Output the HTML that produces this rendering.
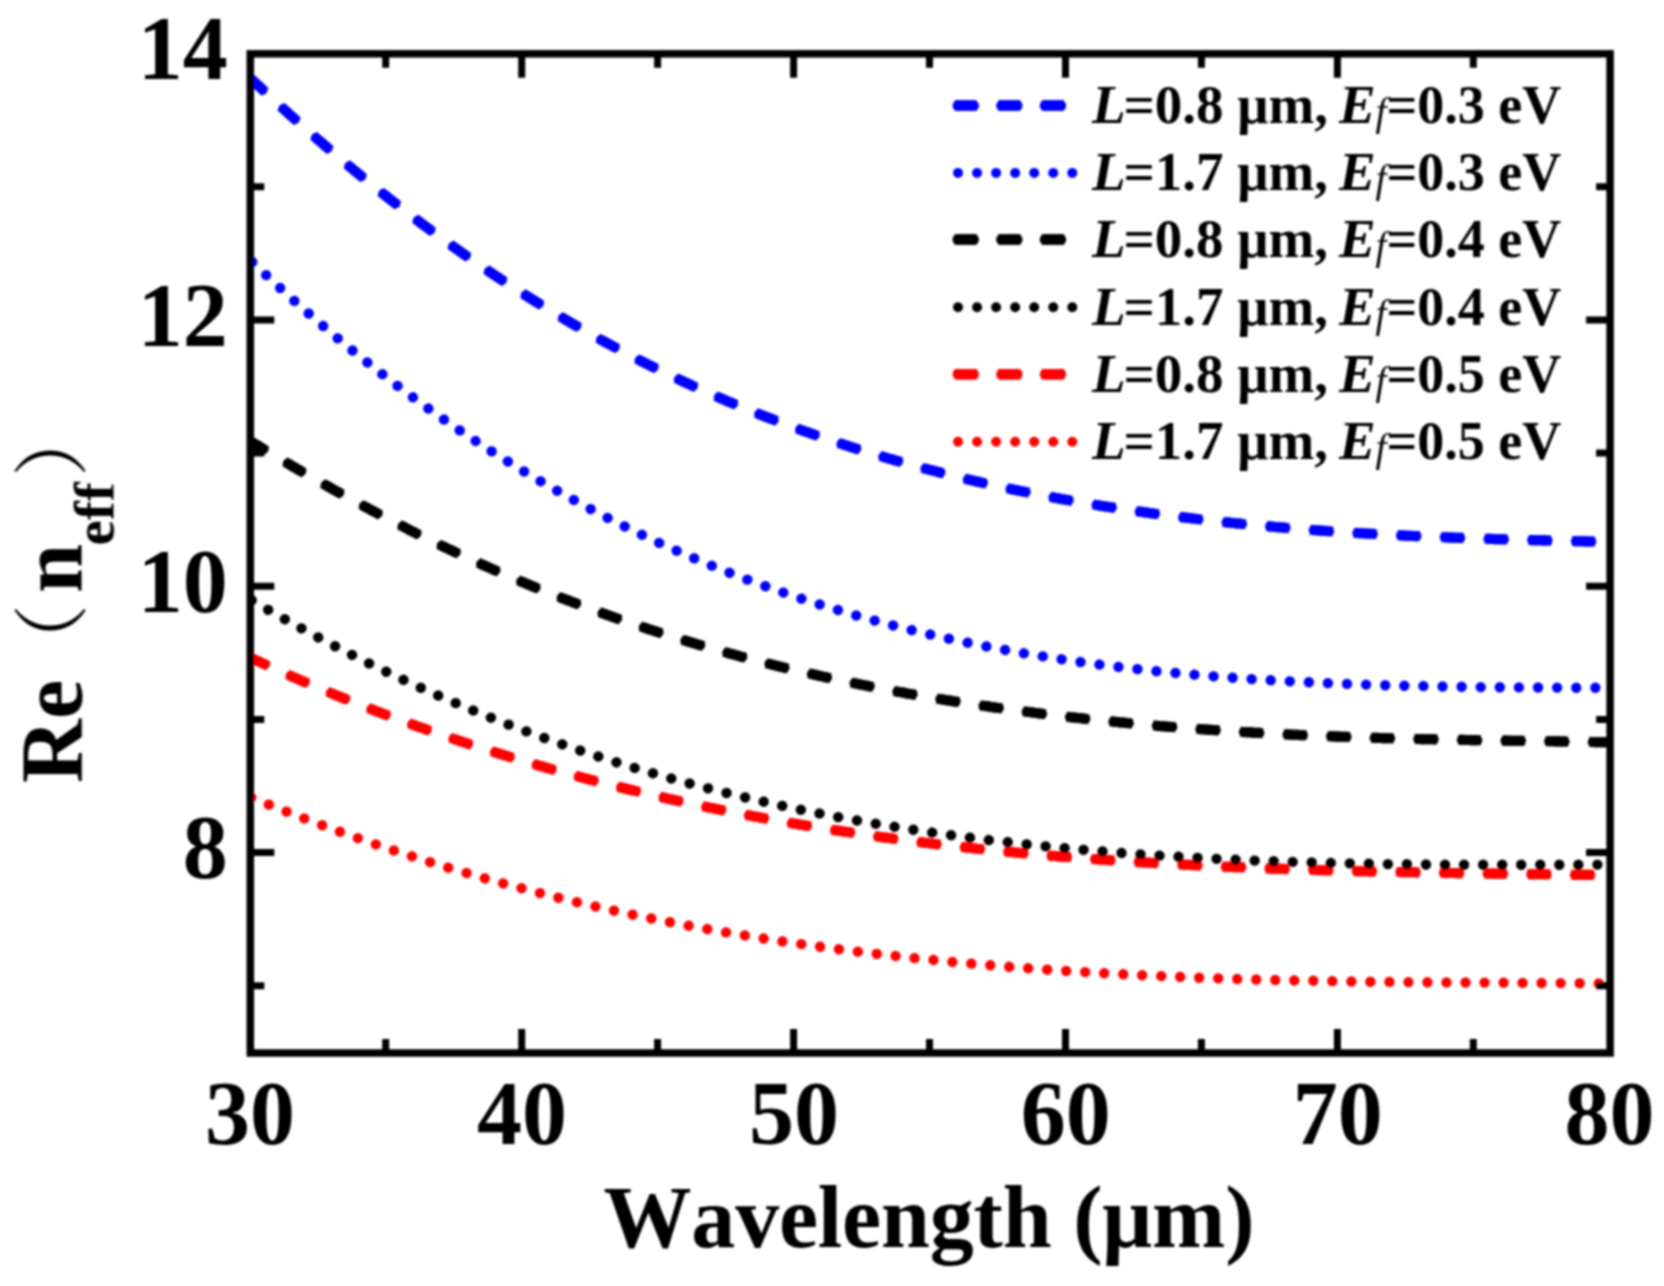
<!DOCTYPE html>
<html lang="en"><head><meta charset="utf-8"><title>Re(neff) vs Wavelength</title>
<style>
html,body{margin:0;padding:0;background:#fff;}
body{width:1664px;height:1286px;overflow:hidden;}
svg{display:block;}
text{font-family:"Liberation Serif","Noto Serif CJK SC",serif;font-weight:bold;fill:#000;font-kerning:none;}
.tick{font-size:90px;}
.lg{font-size:55px;}
.it{font-style:italic;}
.sub{font-size:39px;font-style:italic;font-weight:normal;}
.cjk{font-family:"Noto Serif CJK SC","Liberation Serif",serif;font-weight:normal;}
</style></head><body>
<svg width="1664" height="1286" viewBox="0 0 1664 1286">
<defs><clipPath id="plot"><rect x="247.3" y="53.8" width="1362.8" height="999.2"/></clipPath>
<filter id="soft" x="-5%" y="-5%" width="110%" height="110%"><feGaussianBlur stdDeviation="0.8"/></filter></defs>
<rect width="1664" height="1286" fill="#fff"/>
<g filter="url(#soft)">
<g clip-path="url(#plot)" fill="none">
<path d="M251.0 78.8 L253.0 80.7 L255.0 82.6 L257.0 84.5 L259.0 86.3 L261.0 88.2 L263.0 90.1 L265.0 91.9 L267.0 93.8 L269.0 95.6 L271.0 97.5 L273.0 99.3 L275.0 101.2 L277.0 103.0 L279.0 104.8 L281.0 106.7 L283.0 108.5 L285.0 110.3 L287.0 112.1 L289.0 113.9 L291.0 115.7 L293.0 117.5 L295.0 119.3 L297.0 121.1 L299.0 122.9 L301.0 124.6 L303.0 126.4 L305.0 128.2 L307.0 130.0 L309.0 131.7 L311.0 133.5 L313.0 135.2 L315.0 137.0 L317.0 138.7 L319.0 140.5 L321.0 142.2 L323.0 143.9 L325.0 145.7 L327.0 147.4 L329.0 149.1 L331.0 150.8 L333.0 152.5 L335.0 154.2 L337.0 155.9 L339.0 157.6 L341.0 159.3 L343.0 161.0 L345.0 162.7 L347.0 164.3 L349.0 166.0 L351.0 167.7 L353.0 169.3 L355.0 171.0 L357.0 172.6 L359.0 174.3 L361.0 175.9 L363.0 177.6 L365.0 179.2 L367.0 180.8 L369.0 182.5 L371.0 184.1 L373.0 185.7 L375.0 187.3 L377.0 188.9 L379.0 190.5 L381.0 192.1 L383.0 193.7 L385.0 195.3 L387.0 196.9 L389.0 198.4 L391.0 200.0 L393.0 201.6 L395.0 203.1 L397.0 204.7 L399.0 206.3 L401.0 207.8 L403.0 209.4 L405.0 210.9 L407.0 212.4 L409.0 214.0 L411.0 215.5 L413.0 217.0 L415.0 218.5 L417.0 220.0 L419.0 221.6 L421.0 223.1 L423.0 224.6 L425.0 226.0 L427.0 227.5 L429.0 229.0 L431.0 230.5 L433.0 232.0 L435.0 233.5 L437.0 234.9 L439.0 236.4 L441.0 237.8 L443.0 239.3 L445.0 240.7 L447.0 242.2 L449.0 243.6 L451.0 245.1 L453.0 246.5 L455.0 247.9 L457.0 249.3 L459.0 250.7 L461.0 252.2 L463.0 253.6 L465.0 255.0 L467.0 256.4 L469.0 257.8 L471.0 259.1 L473.0 260.5 L475.0 261.9 L477.0 263.3 L479.0 264.7 L481.0 266.0 L483.0 267.4 L485.0 268.7 L487.0 270.1 L489.0 271.4 L491.0 272.8 L493.0 274.1 L495.0 275.4 L497.0 276.8 L499.0 278.1 L501.0 279.4 L503.0 280.7 L505.0 282.0 L507.0 283.4 L509.0 284.7 L511.0 286.0 L513.0 287.2 L515.0 288.5 L517.0 289.8 L519.0 291.1 L521.0 292.4 L523.0 293.6 L525.0 294.9 L527.0 296.2 L529.0 297.4 L531.0 298.7 L533.0 299.9 L535.0 301.2 L537.0 302.4 L539.0 303.6 L541.0 304.9 L543.0 306.1 L545.0 307.3 L547.0 308.5 L549.0 309.8 L551.0 311.0 L553.0 312.2 L555.0 313.4 L557.0 314.6 L559.0 315.7 L561.0 316.9 L563.0 318.1 L565.0 319.3 L567.0 320.5 L569.0 321.6 L571.0 322.8 L573.0 324.0 L575.0 325.1 L577.0 326.3 L579.0 327.4 L581.0 328.6 L583.0 329.7 L585.0 330.8 L587.0 332.0 L589.0 333.1 L591.0 334.2 L593.0 335.3 L595.0 336.4 L597.0 337.6 L599.0 338.7 L601.0 339.8 L603.0 340.9 L605.0 342.0 L607.0 343.0 L609.0 344.1 L611.0 345.2 L613.0 346.3 L615.0 347.4 L617.0 348.4 L619.0 349.5 L621.0 350.5 L623.0 351.6 L625.0 352.6 L627.0 353.7 L629.0 354.7 L631.0 355.8 L633.0 356.8 L635.0 357.8 L637.0 358.9 L639.0 359.9 L641.0 360.9 L643.0 361.9 L645.0 362.9 L647.0 363.9 L649.0 364.9 L651.0 365.9 L653.0 366.9 L655.0 367.9 L657.0 368.9 L659.0 369.9 L661.0 370.9 L663.0 371.8 L665.0 372.8 L667.0 373.8 L669.0 374.7 L671.0 375.7 L673.0 376.6 L675.0 377.6 L677.0 378.5 L679.0 379.5 L681.0 380.4 L683.0 381.4 L685.0 382.3 L687.0 383.2 L689.0 384.1 L691.0 385.1 L693.0 386.0 L695.0 386.9 L697.0 387.8 L699.0 388.7 L701.0 389.6 L703.0 390.5 L705.0 391.4 L707.0 392.3 L709.0 393.2 L711.0 394.0 L713.0 394.9 L715.0 395.8 L717.0 396.7 L719.0 397.5 L721.0 398.4 L723.0 399.3 L725.0 400.1 L727.0 401.0 L729.0 401.8 L731.0 402.7 L733.0 403.5 L735.0 404.3 L737.0 405.2 L739.0 406.0 L741.0 406.8 L743.0 407.6 L745.0 408.5 L747.0 409.3 L749.0 410.1 L751.0 410.9 L753.0 411.7 L755.0 412.5 L757.0 413.3 L759.0 414.1 L761.0 414.9 L763.0 415.7 L765.0 416.5 L767.0 417.2 L769.0 418.0 L771.0 418.8 L773.0 419.5 L775.0 420.3 L777.0 421.1 L779.0 421.8 L781.0 422.6 L783.0 423.3 L785.0 424.1 L787.0 424.8 L789.0 425.6 L791.0 426.3 L793.0 427.1 L795.0 427.8 L797.0 428.5 L799.0 429.2 L801.0 430.0 L803.0 430.7 L805.0 431.4 L807.0 432.1 L809.0 432.8 L811.0 433.5 L813.0 434.2 L815.0 434.9 L817.0 435.6 L819.0 436.3 L821.0 437.0 L823.0 437.7 L825.0 438.4 L827.0 439.0 L829.0 439.7 L831.0 440.4 L833.0 441.1 L835.0 441.7 L837.0 442.4 L839.0 443.1 L841.0 443.7 L843.0 444.4 L845.0 445.0 L847.0 445.7 L849.0 446.3 L851.0 447.0 L853.0 447.6 L855.0 448.2 L857.0 448.9 L859.0 449.5 L861.0 450.1 L863.0 450.7 L865.0 451.4 L867.0 452.0 L869.0 452.6 L871.0 453.2 L873.0 453.8 L875.0 454.4 L877.0 455.0 L879.0 455.6 L881.0 456.2 L883.0 456.8 L885.0 457.4 L887.0 458.0 L889.0 458.6 L891.0 459.1 L893.0 459.7 L895.0 460.3 L897.0 460.9 L899.0 461.4 L901.0 462.0 L903.0 462.6 L905.0 463.1 L907.0 463.7 L909.0 464.2 L911.0 464.8 L913.0 465.4 L915.0 465.9 L917.0 466.4 L919.0 467.0 L921.0 467.5 L923.0 468.1 L925.0 468.6 L927.0 469.1 L929.0 469.7 L931.0 470.2 L933.0 470.7 L935.0 471.2 L937.0 471.7 L939.0 472.2 L941.0 472.8 L943.0 473.3 L945.0 473.8 L947.0 474.3 L949.0 474.8 L951.0 475.3 L953.0 475.8 L955.0 476.3 L957.0 476.8 L959.0 477.2 L961.0 477.7 L963.0 478.2 L965.0 478.7 L967.0 479.2 L969.0 479.6 L971.0 480.1 L973.0 480.6 L975.0 481.1 L977.0 481.5 L979.0 482.0 L981.0 482.4 L983.0 482.9 L985.0 483.4 L987.0 483.8 L989.0 484.3 L991.0 484.7 L993.0 485.1 L995.0 485.6 L997.0 486.0 L999.0 486.5 L1001.0 486.9 L1003.0 487.3 L1005.0 487.8 L1007.0 488.2 L1009.0 488.6 L1011.0 489.0 L1013.0 489.5 L1015.0 489.9 L1017.0 490.3 L1019.0 490.7 L1021.0 491.1 L1023.0 491.5 L1025.0 491.9 L1027.0 492.3 L1029.0 492.7 L1031.0 493.1 L1033.0 493.5 L1035.0 493.9 L1037.0 494.3 L1039.0 494.7 L1041.0 495.1 L1043.0 495.5 L1045.0 495.9 L1047.0 496.3 L1049.0 496.6 L1051.0 497.0 L1053.0 497.4 L1055.0 497.8 L1057.0 498.1 L1059.0 498.5 L1061.0 498.9 L1063.0 499.2 L1065.0 499.6 L1067.0 499.9 L1069.0 500.3 L1071.0 500.7 L1073.0 501.0 L1075.0 501.4 L1077.0 501.7 L1079.0 502.1 L1081.0 502.4 L1083.0 502.7 L1085.0 503.1 L1087.0 503.4 L1089.0 503.8 L1091.0 504.1 L1093.0 504.4 L1095.0 504.8 L1097.0 505.1 L1099.0 505.4 L1101.0 505.7 L1103.0 506.1 L1105.0 506.4 L1107.0 506.7 L1109.0 507.0 L1111.0 507.3 L1113.0 507.6 L1115.0 507.9 L1117.0 508.3 L1119.0 508.6 L1121.0 508.9 L1123.0 509.2 L1125.0 509.5 L1127.0 509.8 L1129.0 510.1 L1131.0 510.4 L1133.0 510.6 L1135.0 510.9 L1137.0 511.2 L1139.0 511.5 L1141.0 511.8 L1143.0 512.1 L1145.0 512.4 L1147.0 512.6 L1149.0 512.9 L1151.0 513.2 L1153.0 513.5 L1155.0 513.7 L1157.0 514.0 L1159.0 514.3 L1161.0 514.5 L1163.0 514.8 L1165.0 515.1 L1167.0 515.3 L1169.0 515.6 L1171.0 515.8 L1173.0 516.1 L1175.0 516.4 L1177.0 516.6 L1179.0 516.9 L1181.0 517.1 L1183.0 517.4 L1185.0 517.6 L1187.0 517.8 L1189.0 518.1 L1191.0 518.3 L1193.0 518.6 L1195.0 518.8 L1197.0 519.0 L1199.0 519.3 L1201.0 519.5 L1203.0 519.7 L1205.0 520.0 L1207.0 520.2 L1209.0 520.4 L1211.0 520.6 L1213.0 520.9 L1215.0 521.1 L1217.0 521.3 L1219.0 521.5 L1221.0 521.7 L1223.0 521.9 L1225.0 522.2 L1227.0 522.4 L1229.0 522.6 L1231.0 522.8 L1233.0 523.0 L1235.0 523.2 L1237.0 523.4 L1239.0 523.6 L1241.0 523.8 L1243.0 524.0 L1245.0 524.2 L1247.0 524.4 L1249.0 524.6 L1251.0 524.8 L1253.0 525.0 L1255.0 525.1 L1257.0 525.3 L1259.0 525.5 L1261.0 525.7 L1263.0 525.9 L1265.0 526.1 L1267.0 526.3 L1269.0 526.4 L1271.0 526.6 L1273.0 526.8 L1275.0 527.0 L1277.0 527.1 L1279.0 527.3 L1281.0 527.5 L1283.0 527.6 L1285.0 527.8 L1287.0 528.0 L1289.0 528.1 L1291.0 528.3 L1293.0 528.5 L1295.0 528.6 L1297.0 528.8 L1299.0 528.9 L1301.0 529.1 L1303.0 529.3 L1305.0 529.4 L1307.0 529.6 L1309.0 529.7 L1311.0 529.9 L1313.0 530.0 L1315.0 530.2 L1317.0 530.3 L1319.0 530.5 L1321.0 530.6 L1323.0 530.7 L1325.0 530.9 L1327.0 531.0 L1329.0 531.2 L1331.0 531.3 L1333.0 531.4 L1335.0 531.6 L1337.0 531.7 L1339.0 531.8 L1341.0 532.0 L1343.0 532.1 L1345.0 532.2 L1347.0 532.4 L1349.0 532.5 L1351.0 532.6 L1353.0 532.7 L1355.0 532.9 L1357.0 533.0 L1359.0 533.1 L1361.0 533.2 L1363.0 533.3 L1365.0 533.5 L1367.0 533.6 L1369.0 533.7 L1371.0 533.8 L1373.0 533.9 L1375.0 534.0 L1377.0 534.1 L1379.0 534.2 L1381.0 534.4 L1383.0 534.5 L1385.0 534.6 L1387.0 534.7 L1389.0 534.8 L1391.0 534.9 L1393.0 535.0 L1395.0 535.1 L1397.0 535.2 L1399.0 535.3 L1401.0 535.4 L1403.0 535.5 L1405.0 535.6 L1407.0 535.7 L1409.0 535.8 L1411.0 535.9 L1413.0 536.0 L1415.0 536.1 L1417.0 536.1 L1419.0 536.2 L1421.0 536.3 L1423.0 536.4 L1425.0 536.5 L1427.0 536.6 L1429.0 536.7 L1431.0 536.8 L1433.0 536.8 L1435.0 536.9 L1437.0 537.0 L1439.0 537.1 L1441.0 537.2 L1443.0 537.2 L1445.0 537.3 L1447.0 537.4 L1449.0 537.5 L1451.0 537.6 L1453.0 537.6 L1455.0 537.7 L1457.0 537.8 L1459.0 537.9 L1461.0 537.9 L1463.0 538.0 L1465.0 538.1 L1467.0 538.1 L1469.0 538.2 L1471.0 538.3 L1473.0 538.4 L1475.0 538.4 L1477.0 538.5 L1479.0 538.6 L1481.0 538.6 L1483.0 538.7 L1485.0 538.8 L1487.0 538.8 L1489.0 538.9 L1491.0 538.9 L1493.0 539.0 L1495.0 539.1 L1497.0 539.1 L1499.0 539.2 L1501.0 539.2 L1503.0 539.3 L1505.0 539.4 L1507.0 539.4 L1509.0 539.5 L1511.0 539.5 L1513.0 539.6 L1515.0 539.6 L1517.0 539.7 L1519.0 539.8 L1521.0 539.8 L1523.0 539.9 L1525.0 539.9 L1527.0 540.0 L1529.0 540.0 L1531.0 540.1 L1533.0 540.1 L1535.0 540.2 L1537.0 540.2 L1539.0 540.3 L1541.0 540.3 L1543.0 540.4 L1545.0 540.4 L1547.0 540.5 L1549.0 540.5 L1551.0 540.6 L1553.0 540.6 L1555.0 540.7 L1557.0 540.7 L1559.0 540.8 L1561.0 540.8 L1563.0 540.9 L1565.0 540.9 L1567.0 541.0 L1569.0 541.0 L1571.0 541.1 L1573.0 541.1 L1575.0 541.1 L1577.0 541.2 L1579.0 541.2 L1581.0 541.3 L1583.0 541.3 L1585.0 541.4 L1587.0 541.4 L1589.0 541.5 L1591.0 541.5 L1593.0 541.5 L1595.0 541.6 L1597.0 541.6 L1599.0 541.7 L1601.0 541.7 L1603.0 541.8 L1605.0 541.8 L1607.0 541.9 L1609.0 541.9" stroke="#0000ff" stroke-width="10.1" stroke-linecap="round" stroke-dasharray="15.50 28.25" stroke-dashoffset="43.40"/>
<path d="M251.0 78.8 L253.0 80.7 L255.0 82.6 L257.0 84.5 L259.0 86.3 L261.0 88.2 L263.0 90.1 L265.0 91.9 L267.0 93.8 L269.0 95.6 L271.0 97.5 L273.0 99.3 L275.0 101.2 L277.0 103.0 L279.0 104.8 L281.0 106.7 L283.0 108.5 L285.0 110.3 L287.0 112.1 L289.0 113.9 L291.0 115.7 L293.0 117.5 L295.0 119.3 L297.0 121.1 L299.0 122.9 L301.0 124.6 L303.0 126.4 L305.0 128.2 L307.0 130.0 L309.0 131.7 L311.0 133.5 L313.0 135.2 L315.0 137.0 L317.0 138.7 L319.0 140.5 L321.0 142.2 L323.0 143.9 L325.0 145.7 L327.0 147.4 L329.0 149.1 L331.0 150.8 L333.0 152.5 L335.0 154.2 L337.0 155.9 L339.0 157.6 L341.0 159.3 L343.0 161.0 L345.0 162.7 L347.0 164.3 L349.0 166.0 L351.0 167.7 L353.0 169.3 L355.0 171.0 L357.0 172.6 L359.0 174.3 L361.0 175.9 L363.0 177.6 L365.0 179.2 L367.0 180.8 L369.0 182.5 L371.0 184.1 L373.0 185.7 L375.0 187.3 L377.0 188.9 L379.0 190.5 L381.0 192.1 L383.0 193.7 L385.0 195.3 L387.0 196.9 L389.0 198.4 L391.0 200.0 L393.0 201.6 L395.0 203.1 L397.0 204.7 L399.0 206.3 L401.0 207.8 L403.0 209.4 L405.0 210.9 L407.0 212.4 L409.0 214.0 L411.0 215.5 L413.0 217.0 L415.0 218.5 L417.0 220.0 L419.0 221.6 L421.0 223.1 L423.0 224.6 L425.0 226.0 L427.0 227.5 L429.0 229.0 L431.0 230.5 L433.0 232.0 L435.0 233.5 L437.0 234.9 L439.0 236.4 L441.0 237.8 L443.0 239.3 L445.0 240.7 L447.0 242.2 L449.0 243.6 L451.0 245.1 L453.0 246.5 L455.0 247.9 L457.0 249.3 L459.0 250.7 L461.0 252.2 L463.0 253.6 L465.0 255.0 L467.0 256.4 L469.0 257.8 L471.0 259.1 L473.0 260.5 L475.0 261.9 L477.0 263.3 L479.0 264.7 L481.0 266.0 L483.0 267.4 L485.0 268.7 L487.0 270.1 L489.0 271.4 L491.0 272.8 L493.0 274.1 L495.0 275.4 L497.0 276.8 L499.0 278.1 L501.0 279.4 L503.0 280.7 L505.0 282.0 L507.0 283.4 L509.0 284.7 L511.0 286.0 L513.0 287.2 L515.0 288.5 L517.0 289.8 L519.0 291.1 L521.0 292.4 L523.0 293.6 L525.0 294.9 L527.0 296.2 L529.0 297.4 L531.0 298.7 L533.0 299.9 L535.0 301.2 L537.0 302.4 L539.0 303.6 L541.0 304.9 L543.0 306.1 L545.0 307.3 L547.0 308.5 L549.0 309.8 L551.0 311.0 L553.0 312.2 L555.0 313.4 L557.0 314.6 L559.0 315.7 L561.0 316.9 L563.0 318.1 L565.0 319.3 L567.0 320.5 L569.0 321.6 L571.0 322.8 L573.0 324.0 L575.0 325.1 L577.0 326.3 L579.0 327.4 L581.0 328.6 L583.0 329.7 L585.0 330.8 L587.0 332.0 L589.0 333.1 L591.0 334.2 L593.0 335.3 L595.0 336.4 L597.0 337.6 L599.0 338.7 L601.0 339.8 L603.0 340.9 L605.0 342.0 L607.0 343.0 L609.0 344.1 L611.0 345.2 L613.0 346.3 L615.0 347.4 L617.0 348.4 L619.0 349.5 L621.0 350.5 L623.0 351.6 L625.0 352.6 L627.0 353.7 L629.0 354.7 L631.0 355.8 L633.0 356.8 L635.0 357.8 L637.0 358.9 L639.0 359.9 L641.0 360.9 L643.0 361.9 L645.0 362.9 L647.0 363.9 L649.0 364.9 L651.0 365.9 L653.0 366.9 L655.0 367.9 L657.0 368.9 L659.0 369.9 L661.0 370.9 L663.0 371.8 L665.0 372.8 L667.0 373.8 L669.0 374.7 L671.0 375.7 L673.0 376.6 L675.0 377.6 L677.0 378.5 L679.0 379.5 L681.0 380.4 L683.0 381.4 L685.0 382.3 L687.0 383.2 L689.0 384.1 L691.0 385.1 L693.0 386.0 L695.0 386.9 L697.0 387.8 L699.0 388.7 L701.0 389.6 L703.0 390.5 L705.0 391.4 L707.0 392.3 L709.0 393.2 L711.0 394.0 L713.0 394.9 L715.0 395.8 L717.0 396.7 L719.0 397.5 L721.0 398.4 L723.0 399.3 L725.0 400.1 L727.0 401.0 L729.0 401.8 L731.0 402.7 L733.0 403.5 L735.0 404.3 L737.0 405.2 L739.0 406.0 L741.0 406.8 L743.0 407.6 L745.0 408.5 L747.0 409.3 L749.0 410.1 L751.0 410.9 L753.0 411.7 L755.0 412.5 L757.0 413.3 L759.0 414.1 L761.0 414.9 L763.0 415.7 L765.0 416.5 L767.0 417.2 L769.0 418.0 L771.0 418.8 L773.0 419.5 L775.0 420.3 L777.0 421.1 L779.0 421.8 L781.0 422.6 L783.0 423.3 L785.0 424.1 L787.0 424.8 L789.0 425.6 L791.0 426.3 L793.0 427.1 L795.0 427.8 L797.0 428.5 L799.0 429.2 L801.0 430.0 L803.0 430.7 L805.0 431.4 L807.0 432.1 L809.0 432.8 L811.0 433.5 L813.0 434.2 L815.0 434.9 L817.0 435.6 L819.0 436.3 L821.0 437.0 L823.0 437.7 L825.0 438.4 L827.0 439.0 L829.0 439.7 L831.0 440.4 L833.0 441.1 L835.0 441.7 L837.0 442.4 L839.0 443.1 L841.0 443.7 L843.0 444.4 L845.0 445.0 L847.0 445.7 L849.0 446.3 L851.0 447.0 L853.0 447.6 L855.0 448.2 L857.0 448.9 L859.0 449.5 L861.0 450.1 L863.0 450.7 L865.0 451.4 L867.0 452.0 L869.0 452.6 L871.0 453.2 L873.0 453.8 L875.0 454.4 L877.0 455.0 L879.0 455.6 L881.0 456.2 L883.0 456.8 L885.0 457.4 L887.0 458.0 L889.0 458.6 L891.0 459.1 L893.0 459.7 L895.0 460.3 L897.0 460.9 L899.0 461.4 L901.0 462.0 L903.0 462.6 L905.0 463.1 L907.0 463.7 L909.0 464.2 L911.0 464.8 L913.0 465.4 L915.0 465.9 L917.0 466.4 L919.0 467.0 L921.0 467.5 L923.0 468.1 L925.0 468.6 L927.0 469.1 L929.0 469.7 L931.0 470.2 L933.0 470.7 L935.0 471.2 L937.0 471.7 L939.0 472.2 L941.0 472.8 L943.0 473.3 L945.0 473.8 L947.0 474.3 L949.0 474.8 L951.0 475.3 L953.0 475.8 L955.0 476.3 L957.0 476.8 L959.0 477.2 L961.0 477.7 L963.0 478.2 L965.0 478.7 L967.0 479.2 L969.0 479.6 L971.0 480.1 L973.0 480.6 L975.0 481.1 L977.0 481.5 L979.0 482.0 L981.0 482.4 L983.0 482.9 L985.0 483.4 L987.0 483.8 L989.0 484.3 L991.0 484.7 L993.0 485.1 L995.0 485.6 L997.0 486.0 L999.0 486.5 L1001.0 486.9 L1003.0 487.3 L1005.0 487.8 L1007.0 488.2 L1009.0 488.6 L1011.0 489.0 L1013.0 489.5 L1015.0 489.9 L1017.0 490.3 L1019.0 490.7 L1021.0 491.1 L1023.0 491.5 L1025.0 491.9 L1027.0 492.3 L1029.0 492.7 L1031.0 493.1 L1033.0 493.5 L1035.0 493.9 L1037.0 494.3 L1039.0 494.7 L1041.0 495.1 L1043.0 495.5 L1045.0 495.9 L1047.0 496.3 L1049.0 496.6 L1051.0 497.0 L1053.0 497.4 L1055.0 497.8 L1057.0 498.1 L1059.0 498.5 L1061.0 498.9 L1063.0 499.2 L1065.0 499.6 L1067.0 499.9 L1069.0 500.3 L1071.0 500.7 L1073.0 501.0 L1075.0 501.4 L1077.0 501.7 L1079.0 502.1 L1081.0 502.4 L1083.0 502.7 L1085.0 503.1 L1087.0 503.4 L1089.0 503.8 L1091.0 504.1 L1093.0 504.4 L1095.0 504.8 L1097.0 505.1 L1099.0 505.4 L1101.0 505.7 L1103.0 506.1 L1105.0 506.4 L1107.0 506.7 L1109.0 507.0 L1111.0 507.3 L1113.0 507.6 L1115.0 507.9 L1117.0 508.3 L1119.0 508.6 L1121.0 508.9 L1123.0 509.2 L1125.0 509.5 L1127.0 509.8 L1129.0 510.1 L1131.0 510.4 L1133.0 510.6 L1135.0 510.9 L1137.0 511.2 L1139.0 511.5 L1141.0 511.8 L1143.0 512.1 L1145.0 512.4 L1147.0 512.6 L1149.0 512.9 L1151.0 513.2 L1153.0 513.5 L1155.0 513.7 L1157.0 514.0 L1159.0 514.3 L1161.0 514.5 L1163.0 514.8 L1165.0 515.1 L1167.0 515.3 L1169.0 515.6 L1171.0 515.8 L1173.0 516.1 L1175.0 516.4 L1177.0 516.6 L1179.0 516.9 L1181.0 517.1 L1183.0 517.4 L1185.0 517.6 L1187.0 517.8 L1189.0 518.1 L1191.0 518.3 L1193.0 518.6 L1195.0 518.8 L1197.0 519.0 L1199.0 519.3 L1201.0 519.5 L1203.0 519.7 L1205.0 520.0 L1207.0 520.2 L1209.0 520.4 L1211.0 520.6 L1213.0 520.9 L1215.0 521.1 L1217.0 521.3 L1219.0 521.5 L1221.0 521.7 L1223.0 521.9 L1225.0 522.2 L1227.0 522.4 L1229.0 522.6 L1231.0 522.8 L1233.0 523.0 L1235.0 523.2 L1237.0 523.4 L1239.0 523.6 L1241.0 523.8 L1243.0 524.0 L1245.0 524.2 L1247.0 524.4 L1249.0 524.6 L1251.0 524.8 L1253.0 525.0 L1255.0 525.1 L1257.0 525.3 L1259.0 525.5 L1261.0 525.7 L1263.0 525.9 L1265.0 526.1 L1267.0 526.3 L1269.0 526.4 L1271.0 526.6 L1273.0 526.8 L1275.0 527.0 L1277.0 527.1 L1279.0 527.3 L1281.0 527.5 L1283.0 527.6 L1285.0 527.8 L1287.0 528.0 L1289.0 528.1 L1291.0 528.3 L1293.0 528.5 L1295.0 528.6 L1297.0 528.8 L1299.0 528.9 L1301.0 529.1 L1303.0 529.3 L1305.0 529.4 L1307.0 529.6 L1309.0 529.7 L1311.0 529.9 L1313.0 530.0 L1315.0 530.2 L1317.0 530.3 L1319.0 530.5 L1321.0 530.6 L1323.0 530.7 L1325.0 530.9 L1327.0 531.0 L1329.0 531.2 L1331.0 531.3 L1333.0 531.4 L1335.0 531.6 L1337.0 531.7 L1339.0 531.8 L1341.0 532.0 L1343.0 532.1 L1345.0 532.2 L1347.0 532.4 L1349.0 532.5 L1351.0 532.6 L1353.0 532.7 L1355.0 532.9 L1357.0 533.0 L1359.0 533.1 L1361.0 533.2 L1363.0 533.3 L1365.0 533.5 L1367.0 533.6 L1369.0 533.7 L1371.0 533.8 L1373.0 533.9 L1375.0 534.0 L1377.0 534.1 L1379.0 534.2 L1381.0 534.4 L1383.0 534.5 L1385.0 534.6 L1387.0 534.7 L1389.0 534.8 L1391.0 534.9 L1393.0 535.0 L1395.0 535.1 L1397.0 535.2 L1399.0 535.3 L1401.0 535.4 L1403.0 535.5 L1405.0 535.6 L1407.0 535.7 L1409.0 535.8 L1411.0 535.9 L1413.0 536.0 L1415.0 536.1 L1417.0 536.1 L1419.0 536.2 L1421.0 536.3 L1423.0 536.4 L1425.0 536.5 L1427.0 536.6 L1429.0 536.7 L1431.0 536.8 L1433.0 536.8 L1435.0 536.9 L1437.0 537.0 L1439.0 537.1 L1441.0 537.2 L1443.0 537.2 L1445.0 537.3 L1447.0 537.4 L1449.0 537.5 L1451.0 537.6 L1453.0 537.6 L1455.0 537.7 L1457.0 537.8 L1459.0 537.9 L1461.0 537.9 L1463.0 538.0 L1465.0 538.1 L1467.0 538.1 L1469.0 538.2 L1471.0 538.3 L1473.0 538.4 L1475.0 538.4 L1477.0 538.5 L1479.0 538.6 L1481.0 538.6 L1483.0 538.7 L1485.0 538.8 L1487.0 538.8 L1489.0 538.9 L1491.0 538.9 L1493.0 539.0 L1495.0 539.1 L1497.0 539.1 L1499.0 539.2 L1501.0 539.2 L1503.0 539.3 L1505.0 539.4 L1507.0 539.4 L1509.0 539.5 L1511.0 539.5 L1513.0 539.6 L1515.0 539.6 L1517.0 539.7 L1519.0 539.8 L1521.0 539.8 L1523.0 539.9 L1525.0 539.9 L1527.0 540.0 L1529.0 540.0 L1531.0 540.1 L1533.0 540.1 L1535.0 540.2 L1537.0 540.2 L1539.0 540.3 L1541.0 540.3 L1543.0 540.4 L1545.0 540.4 L1547.0 540.5 L1549.0 540.5 L1551.0 540.6 L1553.0 540.6 L1555.0 540.7 L1557.0 540.7 L1559.0 540.8 L1561.0 540.8 L1563.0 540.9 L1565.0 540.9 L1567.0 541.0 L1569.0 541.0 L1571.0 541.1 L1573.0 541.1 L1575.0 541.1 L1577.0 541.2 L1579.0 541.2 L1581.0 541.3 L1583.0 541.3 L1585.0 541.4 L1587.0 541.4 L1589.0 541.5 L1591.0 541.5 L1593.0 541.5 L1595.0 541.6 L1597.0 541.6 L1599.0 541.7 L1601.0 541.7 L1603.0 541.8 L1605.0 541.8 L1607.0 541.9 L1609.0 541.9" stroke="#0000ff" stroke-width="10.1" stroke-dasharray="22.60 21.15" stroke-dashoffset="3.20"/>
<path d="M251.0 260.7 L253.0 262.6 L255.0 264.5 L257.0 266.4 L259.0 268.3 L261.0 270.2 L263.0 272.1 L265.0 274.0 L267.0 275.9 L269.0 277.7 L271.0 279.6 L273.0 281.4 L275.0 283.3 L277.0 285.1 L279.0 287.0 L281.0 288.8 L283.0 290.6 L285.0 292.4 L287.0 294.3 L289.0 296.1 L291.0 297.9 L293.0 299.7 L295.0 301.5 L297.0 303.2 L299.0 305.0 L301.0 306.8 L303.0 308.6 L305.0 310.3 L307.0 312.1 L309.0 313.8 L311.0 315.6 L313.0 317.3 L315.0 319.1 L317.0 320.8 L319.0 322.5 L321.0 324.2 L323.0 325.9 L325.0 327.6 L327.0 329.4 L329.0 331.0 L331.0 332.7 L333.0 334.4 L335.0 336.1 L337.0 337.8 L339.0 339.4 L341.0 341.1 L343.0 342.8 L345.0 344.4 L347.0 346.1 L349.0 347.7 L351.0 349.3 L353.0 351.0 L355.0 352.6 L357.0 354.2 L359.0 355.8 L361.0 357.4 L363.0 359.0 L365.0 360.6 L367.0 362.2 L369.0 363.8 L371.0 365.4 L373.0 367.0 L375.0 368.5 L377.0 370.1 L379.0 371.7 L381.0 373.2 L383.0 374.8 L385.0 376.3 L387.0 377.9 L389.0 379.4 L391.0 380.9 L393.0 382.4 L395.0 384.0 L397.0 385.5 L399.0 387.0 L401.0 388.5 L403.0 390.0 L405.0 391.5 L407.0 393.0 L409.0 394.4 L411.0 395.9 L413.0 397.4 L415.0 398.9 L417.0 400.3 L419.0 401.8 L421.0 403.2 L423.0 404.7 L425.0 406.1 L427.0 407.6 L429.0 409.0 L431.0 410.4 L433.0 411.8 L435.0 413.3 L437.0 414.7 L439.0 416.1 L441.0 417.5 L443.0 418.9 L445.0 420.3 L447.0 421.7 L449.0 423.1 L451.0 424.4 L453.0 425.8 L455.0 427.2 L457.0 428.5 L459.0 429.9 L461.0 431.2 L463.0 432.6 L465.0 433.9 L467.0 435.3 L469.0 436.6 L471.0 437.9 L473.0 439.3 L475.0 440.6 L477.0 441.9 L479.0 443.2 L481.0 444.5 L483.0 445.8 L485.0 447.1 L487.0 448.4 L489.0 449.7 L491.0 451.0 L493.0 452.3 L495.0 453.5 L497.0 454.8 L499.0 456.1 L501.0 457.3 L503.0 458.6 L505.0 459.8 L507.0 461.1 L509.0 462.3 L511.0 463.5 L513.0 464.8 L515.0 466.0 L517.0 467.2 L519.0 468.4 L521.0 469.6 L523.0 470.9 L525.0 472.1 L527.0 473.3 L529.0 474.5 L531.0 475.6 L533.0 476.8 L535.0 478.0 L537.0 479.2 L539.0 480.4 L541.0 481.5 L543.0 482.7 L545.0 483.8 L547.0 485.0 L549.0 486.1 L551.0 487.3 L553.0 488.4 L555.0 489.6 L557.0 490.7 L559.0 491.8 L561.0 493.0 L563.0 494.1 L565.0 495.2 L567.0 496.3 L569.0 497.4 L571.0 498.5 L573.0 499.6 L575.0 500.7 L577.0 501.8 L579.0 502.9 L581.0 503.9 L583.0 505.0 L585.0 506.1 L587.0 507.2 L589.0 508.2 L591.0 509.3 L593.0 510.3 L595.0 511.4 L597.0 512.4 L599.0 513.5 L601.0 514.5 L603.0 515.5 L605.0 516.6 L607.0 517.6 L609.0 518.6 L611.0 519.6 L613.0 520.7 L615.0 521.7 L617.0 522.7 L619.0 523.7 L621.0 524.7 L623.0 525.7 L625.0 526.6 L627.0 527.6 L629.0 528.6 L631.0 529.6 L633.0 530.5 L635.0 531.5 L637.0 532.5 L639.0 533.4 L641.0 534.4 L643.0 535.3 L645.0 536.3 L647.0 537.2 L649.0 538.2 L651.0 539.1 L653.0 540.0 L655.0 541.0 L657.0 541.9 L659.0 542.8 L661.0 543.7 L663.0 544.6 L665.0 545.5 L667.0 546.4 L669.0 547.3 L671.0 548.2 L673.0 549.1 L675.0 550.0 L677.0 550.9 L679.0 551.8 L681.0 552.7 L683.0 553.5 L685.0 554.4 L687.0 555.3 L689.0 556.1 L691.0 557.0 L693.0 557.8 L695.0 558.7 L697.0 559.5 L699.0 560.4 L701.0 561.2 L703.0 562.1 L705.0 562.9 L707.0 563.7 L709.0 564.5 L711.0 565.4 L713.0 566.2 L715.0 567.0 L717.0 567.8 L719.0 568.6 L721.0 569.4 L723.0 570.2 L725.0 571.0 L727.0 571.8 L729.0 572.6 L731.0 573.3 L733.0 574.1 L735.0 574.9 L737.0 575.7 L739.0 576.4 L741.0 577.2 L743.0 578.0 L745.0 578.7 L747.0 579.5 L749.0 580.2 L751.0 581.0 L753.0 581.7 L755.0 582.5 L757.0 583.2 L759.0 583.9 L761.0 584.7 L763.0 585.4 L765.0 586.1 L767.0 586.8 L769.0 587.5 L771.0 588.3 L773.0 589.0 L775.0 589.7 L777.0 590.4 L779.0 591.1 L781.0 591.8 L783.0 592.5 L785.0 593.1 L787.0 593.8 L789.0 594.5 L791.0 595.2 L793.0 595.9 L795.0 596.5 L797.0 597.2 L799.0 597.9 L801.0 598.5 L803.0 599.2 L805.0 599.8 L807.0 600.5 L809.0 601.1 L811.0 601.8 L813.0 602.4 L815.0 603.1 L817.0 603.7 L819.0 604.3 L821.0 604.9 L823.0 605.6 L825.0 606.2 L827.0 606.8 L829.0 607.4 L831.0 608.0 L833.0 608.6 L835.0 609.2 L837.0 609.8 L839.0 610.4 L841.0 611.0 L843.0 611.6 L845.0 612.2 L847.0 612.8 L849.0 613.4 L851.0 614.0 L853.0 614.6 L855.0 615.1 L857.0 615.7 L859.0 616.3 L861.0 616.8 L863.0 617.4 L865.0 617.9 L867.0 618.5 L869.0 619.1 L871.0 619.6 L873.0 620.2 L875.0 620.7 L877.0 621.2 L879.0 621.8 L881.0 622.3 L883.0 622.8 L885.0 623.4 L887.0 623.9 L889.0 624.4 L891.0 624.9 L893.0 625.4 L895.0 626.0 L897.0 626.5 L899.0 627.0 L901.0 627.5 L903.0 628.0 L905.0 628.5 L907.0 629.0 L909.0 629.5 L911.0 630.0 L913.0 630.5 L915.0 630.9 L917.0 631.4 L919.0 631.9 L921.0 632.4 L923.0 632.8 L925.0 633.3 L927.0 633.8 L929.0 634.3 L931.0 634.7 L933.0 635.2 L935.0 635.6 L937.0 636.1 L939.0 636.5 L941.0 637.0 L943.0 637.4 L945.0 637.9 L947.0 638.3 L949.0 638.8 L951.0 639.2 L953.0 639.6 L955.0 640.0 L957.0 640.5 L959.0 640.9 L961.0 641.3 L963.0 641.7 L965.0 642.2 L967.0 642.6 L969.0 643.0 L971.0 643.4 L973.0 643.8 L975.0 644.2 L977.0 644.6 L979.0 645.0 L981.0 645.4 L983.0 645.8 L985.0 646.2 L987.0 646.6 L989.0 646.9 L991.0 647.3 L993.0 647.7 L995.0 648.1 L997.0 648.5 L999.0 648.8 L1001.0 649.2 L1003.0 649.6 L1005.0 649.9 L1007.0 650.3 L1009.0 650.7 L1011.0 651.0 L1013.0 651.4 L1015.0 651.7 L1017.0 652.1 L1019.0 652.4 L1021.0 652.8 L1023.0 653.1 L1025.0 653.5 L1027.0 653.8 L1029.0 654.1 L1031.0 654.5 L1033.0 654.8 L1035.0 655.1 L1037.0 655.5 L1039.0 655.8 L1041.0 656.1 L1043.0 656.4 L1045.0 656.8 L1047.0 657.1 L1049.0 657.4 L1051.0 657.7 L1053.0 658.0 L1055.0 658.3 L1057.0 658.6 L1059.0 658.9 L1061.0 659.2 L1063.0 659.5 L1065.0 659.8 L1067.0 660.1 L1069.0 660.4 L1071.0 660.7 L1073.0 661.0 L1075.0 661.3 L1077.0 661.6 L1079.0 661.8 L1081.0 662.1 L1083.0 662.4 L1085.0 662.7 L1087.0 662.9 L1089.0 663.2 L1091.0 663.5 L1093.0 663.7 L1095.0 664.0 L1097.0 664.3 L1099.0 664.5 L1101.0 664.8 L1103.0 665.1 L1105.0 665.3 L1107.0 665.6 L1109.0 665.8 L1111.0 666.1 L1113.0 666.3 L1115.0 666.5 L1117.0 666.8 L1119.0 667.0 L1121.0 667.3 L1123.0 667.5 L1125.0 667.7 L1127.0 668.0 L1129.0 668.2 L1131.0 668.4 L1133.0 668.7 L1135.0 668.9 L1137.0 669.1 L1139.0 669.3 L1141.0 669.6 L1143.0 669.8 L1145.0 670.0 L1147.0 670.2 L1149.0 670.4 L1151.0 670.6 L1153.0 670.8 L1155.0 671.0 L1157.0 671.3 L1159.0 671.5 L1161.0 671.7 L1163.0 671.9 L1165.0 672.1 L1167.0 672.3 L1169.0 672.4 L1171.0 672.6 L1173.0 672.8 L1175.0 673.0 L1177.0 673.2 L1179.0 673.4 L1181.0 673.6 L1183.0 673.8 L1185.0 673.9 L1187.0 674.1 L1189.0 674.3 L1191.0 674.5 L1193.0 674.7 L1195.0 674.8 L1197.0 675.0 L1199.0 675.2 L1201.0 675.3 L1203.0 675.5 L1205.0 675.7 L1207.0 675.8 L1209.0 676.0 L1211.0 676.2 L1213.0 676.3 L1215.0 676.5 L1217.0 676.6 L1219.0 676.8 L1221.0 676.9 L1223.0 677.1 L1225.0 677.2 L1227.0 677.4 L1229.0 677.5 L1231.0 677.7 L1233.0 677.8 L1235.0 678.0 L1237.0 678.1 L1239.0 678.3 L1241.0 678.4 L1243.0 678.5 L1245.0 678.7 L1247.0 678.8 L1249.0 678.9 L1251.0 679.1 L1253.0 679.2 L1255.0 679.3 L1257.0 679.5 L1259.0 679.6 L1261.0 679.7 L1263.0 679.8 L1265.0 680.0 L1267.0 680.1 L1269.0 680.2 L1271.0 680.3 L1273.0 680.4 L1275.0 680.5 L1277.0 680.7 L1279.0 680.8 L1281.0 680.9 L1283.0 681.0 L1285.0 681.1 L1287.0 681.2 L1289.0 681.3 L1291.0 681.4 L1293.0 681.5 L1295.0 681.6 L1297.0 681.7 L1299.0 681.8 L1301.0 681.9 L1303.0 682.0 L1305.0 682.1 L1307.0 682.2 L1309.0 682.3 L1311.0 682.4 L1313.0 682.5 L1315.0 682.6 L1317.0 682.7 L1319.0 682.8 L1321.0 682.9 L1323.0 683.0 L1325.0 683.1 L1327.0 683.1 L1329.0 683.2 L1331.0 683.3 L1333.0 683.4 L1335.0 683.5 L1337.0 683.6 L1339.0 683.6 L1341.0 683.7 L1343.0 683.8 L1345.0 683.9 L1347.0 683.9 L1349.0 684.0 L1351.0 684.1 L1353.0 684.2 L1355.0 684.2 L1357.0 684.3 L1359.0 684.4 L1361.0 684.4 L1363.0 684.5 L1365.0 684.6 L1367.0 684.6 L1369.0 684.7 L1371.0 684.8 L1373.0 684.8 L1375.0 684.9 L1377.0 685.0 L1379.0 685.0 L1381.0 685.1 L1383.0 685.1 L1385.0 685.2 L1387.0 685.2 L1389.0 685.3 L1391.0 685.4 L1393.0 685.4 L1395.0 685.5 L1397.0 685.5 L1399.0 685.6 L1401.0 685.6 L1403.0 685.7 L1405.0 685.7 L1407.0 685.8 L1409.0 685.8 L1411.0 685.9 L1413.0 685.9 L1415.0 686.0 L1417.0 686.0 L1419.0 686.0 L1421.0 686.1 L1423.0 686.1 L1425.0 686.2 L1427.0 686.2 L1429.0 686.3 L1431.0 686.3 L1433.0 686.3 L1435.0 686.4 L1437.0 686.4 L1439.0 686.4 L1441.0 686.5 L1443.0 686.5 L1445.0 686.6 L1447.0 686.6 L1449.0 686.6 L1451.0 686.7 L1453.0 686.7 L1455.0 686.7 L1457.0 686.7 L1459.0 686.8 L1461.0 686.8 L1463.0 686.8 L1465.0 686.9 L1467.0 686.9 L1469.0 686.9 L1471.0 687.0 L1473.0 687.0 L1475.0 687.0 L1477.0 687.0 L1479.0 687.1 L1481.0 687.1 L1483.0 687.1 L1485.0 687.1 L1487.0 687.1 L1489.0 687.2 L1491.0 687.2 L1493.0 687.2 L1495.0 687.2 L1497.0 687.2 L1499.0 687.3 L1501.0 687.3 L1503.0 687.3 L1505.0 687.3 L1507.0 687.3 L1509.0 687.4 L1511.0 687.4 L1513.0 687.4 L1515.0 687.4 L1517.0 687.4 L1519.0 687.4 L1521.0 687.4 L1523.0 687.5 L1525.0 687.5 L1527.0 687.5 L1529.0 687.5 L1531.0 687.5 L1533.0 687.5 L1535.0 687.5 L1537.0 687.5 L1539.0 687.5 L1541.0 687.6 L1543.0 687.6 L1545.0 687.6 L1547.0 687.6 L1549.0 687.6 L1551.0 687.6 L1553.0 687.6 L1555.0 687.6 L1557.0 687.6 L1559.0 687.6 L1561.0 687.6 L1563.0 687.6 L1565.0 687.6 L1567.0 687.6 L1569.0 687.6 L1571.0 687.6 L1573.0 687.6 L1575.0 687.7 L1577.0 687.7 L1579.0 687.7 L1581.0 687.7 L1583.0 687.7 L1585.0 687.7 L1587.0 687.7 L1589.0 687.7 L1591.0 687.7 L1593.0 687.7 L1595.0 687.7 L1597.0 687.7 L1599.0 687.7 L1601.0 687.7 L1603.0 687.6 L1605.0 687.6 L1607.0 687.6 L1609.0 687.6" stroke="#0000ff" stroke-width="10.4" stroke-linecap="round" stroke-dasharray="0.01 19.10" stroke-dashoffset="17.32"/>
<path d="M251.0 441.6 L253.0 442.8 L255.0 444.0 L257.0 445.2 L259.0 446.4 L261.0 447.6 L263.0 448.8 L265.0 450.0 L267.0 451.2 L269.0 452.4 L271.0 453.6 L273.0 454.7 L275.0 455.9 L277.0 457.1 L279.0 458.3 L281.0 459.5 L283.0 460.6 L285.0 461.8 L287.0 463.0 L289.0 464.1 L291.0 465.3 L293.0 466.5 L295.0 467.6 L297.0 468.8 L299.0 470.0 L301.0 471.1 L303.0 472.3 L305.0 473.4 L307.0 474.6 L309.0 475.7 L311.0 476.9 L313.0 478.0 L315.0 479.1 L317.0 480.3 L319.0 481.4 L321.0 482.5 L323.0 483.7 L325.0 484.8 L327.0 485.9 L329.0 487.0 L331.0 488.1 L333.0 489.3 L335.0 490.4 L337.0 491.5 L339.0 492.6 L341.0 493.7 L343.0 494.8 L345.0 495.9 L347.0 497.0 L349.0 498.1 L351.0 499.2 L353.0 500.3 L355.0 501.4 L357.0 502.4 L359.0 503.5 L361.0 504.6 L363.0 505.7 L365.0 506.8 L367.0 507.8 L369.0 508.9 L371.0 510.0 L373.0 511.0 L375.0 512.1 L377.0 513.1 L379.0 514.2 L381.0 515.2 L383.0 516.3 L385.0 517.3 L387.0 518.4 L389.0 519.4 L391.0 520.5 L393.0 521.5 L395.0 522.5 L397.0 523.5 L399.0 524.6 L401.0 525.6 L403.0 526.6 L405.0 527.6 L407.0 528.6 L409.0 529.7 L411.0 530.7 L413.0 531.7 L415.0 532.7 L417.0 533.7 L419.0 534.7 L421.0 535.7 L423.0 536.6 L425.0 537.6 L427.0 538.6 L429.0 539.6 L431.0 540.6 L433.0 541.6 L435.0 542.5 L437.0 543.5 L439.0 544.5 L441.0 545.4 L443.0 546.4 L445.0 547.3 L447.0 548.3 L449.0 549.2 L451.0 550.2 L453.0 551.1 L455.0 552.1 L457.0 553.0 L459.0 554.0 L461.0 554.9 L463.0 555.8 L465.0 556.7 L467.0 557.7 L469.0 558.6 L471.0 559.5 L473.0 560.4 L475.0 561.3 L477.0 562.2 L479.0 563.1 L481.0 564.1 L483.0 565.0 L485.0 565.8 L487.0 566.7 L489.0 567.6 L491.0 568.5 L493.0 569.4 L495.0 570.3 L497.0 571.2 L499.0 572.0 L501.0 572.9 L503.0 573.8 L505.0 574.6 L507.0 575.5 L509.0 576.4 L511.0 577.2 L513.0 578.1 L515.0 578.9 L517.0 579.8 L519.0 580.6 L521.0 581.5 L523.0 582.3 L525.0 583.1 L527.0 584.0 L529.0 584.8 L531.0 585.6 L533.0 586.5 L535.0 587.3 L537.0 588.1 L539.0 588.9 L541.0 589.7 L543.0 590.5 L545.0 591.3 L547.0 592.1 L549.0 592.9 L551.0 593.7 L553.0 594.5 L555.0 595.3 L557.0 596.1 L559.0 596.9 L561.0 597.7 L563.0 598.5 L565.0 599.2 L567.0 600.0 L569.0 600.8 L571.0 601.5 L573.0 602.3 L575.0 603.1 L577.0 603.8 L579.0 604.6 L581.0 605.3 L583.0 606.1 L585.0 606.8 L587.0 607.6 L589.0 608.3 L591.0 609.1 L593.0 609.8 L595.0 610.5 L597.0 611.3 L599.0 612.0 L601.0 612.7 L603.0 613.4 L605.0 614.1 L607.0 614.9 L609.0 615.6 L611.0 616.3 L613.0 617.0 L615.0 617.7 L617.0 618.4 L619.0 619.1 L621.0 619.8 L623.0 620.5 L625.0 621.2 L627.0 621.9 L629.0 622.5 L631.0 623.2 L633.0 623.9 L635.0 624.6 L637.0 625.3 L639.0 625.9 L641.0 626.6 L643.0 627.3 L645.0 627.9 L647.0 628.6 L649.0 629.2 L651.0 629.9 L653.0 630.5 L655.0 631.2 L657.0 631.8 L659.0 632.5 L661.0 633.1 L663.0 633.7 L665.0 634.4 L667.0 635.0 L669.0 635.6 L671.0 636.3 L673.0 636.9 L675.0 637.5 L677.0 638.1 L679.0 638.7 L681.0 639.4 L683.0 640.0 L685.0 640.6 L687.0 641.2 L689.0 641.8 L691.0 642.4 L693.0 643.0 L695.0 643.6 L697.0 644.2 L699.0 644.8 L701.0 645.3 L703.0 645.9 L705.0 646.5 L707.0 647.1 L709.0 647.7 L711.0 648.2 L713.0 648.8 L715.0 649.4 L717.0 650.0 L719.0 650.5 L721.0 651.1 L723.0 651.6 L725.0 652.2 L727.0 652.7 L729.0 653.3 L731.0 653.9 L733.0 654.4 L735.0 654.9 L737.0 655.5 L739.0 656.0 L741.0 656.6 L743.0 657.1 L745.0 657.6 L747.0 658.2 L749.0 658.7 L751.0 659.2 L753.0 659.7 L755.0 660.3 L757.0 660.8 L759.0 661.3 L761.0 661.8 L763.0 662.3 L765.0 662.8 L767.0 663.3 L769.0 663.8 L771.0 664.3 L773.0 664.8 L775.0 665.3 L777.0 665.8 L779.0 666.3 L781.0 666.8 L783.0 667.3 L785.0 667.8 L787.0 668.3 L789.0 668.7 L791.0 669.2 L793.0 669.7 L795.0 670.2 L797.0 670.6 L799.0 671.1 L801.0 671.6 L803.0 672.0 L805.0 672.5 L807.0 673.0 L809.0 673.4 L811.0 673.9 L813.0 674.3 L815.0 674.8 L817.0 675.2 L819.0 675.7 L821.0 676.1 L823.0 676.6 L825.0 677.0 L827.0 677.5 L829.0 677.9 L831.0 678.3 L833.0 678.8 L835.0 679.2 L837.0 679.6 L839.0 680.0 L841.0 680.5 L843.0 680.9 L845.0 681.3 L847.0 681.7 L849.0 682.2 L851.0 682.6 L853.0 683.0 L855.0 683.4 L857.0 683.8 L859.0 684.2 L861.0 684.6 L863.0 685.0 L865.0 685.4 L867.0 685.8 L869.0 686.2 L871.0 686.6 L873.0 687.0 L875.0 687.4 L877.0 687.8 L879.0 688.2 L881.0 688.5 L883.0 688.9 L885.0 689.3 L887.0 689.7 L889.0 690.1 L891.0 690.4 L893.0 690.8 L895.0 691.2 L897.0 691.6 L899.0 691.9 L901.0 692.3 L903.0 692.6 L905.0 693.0 L907.0 693.4 L909.0 693.7 L911.0 694.1 L913.0 694.4 L915.0 694.8 L917.0 695.1 L919.0 695.5 L921.0 695.8 L923.0 696.2 L925.0 696.5 L927.0 696.9 L929.0 697.2 L931.0 697.6 L933.0 697.9 L935.0 698.2 L937.0 698.6 L939.0 698.9 L941.0 699.2 L943.0 699.5 L945.0 699.9 L947.0 700.2 L949.0 700.5 L951.0 700.8 L953.0 701.2 L955.0 701.5 L957.0 701.8 L959.0 702.1 L961.0 702.4 L963.0 702.7 L965.0 703.0 L967.0 703.3 L969.0 703.7 L971.0 704.0 L973.0 704.3 L975.0 704.6 L977.0 704.9 L979.0 705.2 L981.0 705.5 L983.0 705.7 L985.0 706.0 L987.0 706.3 L989.0 706.6 L991.0 706.9 L993.0 707.2 L995.0 707.5 L997.0 707.8 L999.0 708.0 L1001.0 708.3 L1003.0 708.6 L1005.0 708.9 L1007.0 709.2 L1009.0 709.4 L1011.0 709.7 L1013.0 710.0 L1015.0 710.2 L1017.0 710.5 L1019.0 710.8 L1021.0 711.0 L1023.0 711.3 L1025.0 711.6 L1027.0 711.8 L1029.0 712.1 L1031.0 712.3 L1033.0 712.6 L1035.0 712.9 L1037.0 713.1 L1039.0 713.4 L1041.0 713.6 L1043.0 713.9 L1045.0 714.1 L1047.0 714.3 L1049.0 714.6 L1051.0 714.8 L1053.0 715.1 L1055.0 715.3 L1057.0 715.5 L1059.0 715.8 L1061.0 716.0 L1063.0 716.3 L1065.0 716.5 L1067.0 716.7 L1069.0 716.9 L1071.0 717.2 L1073.0 717.4 L1075.0 717.6 L1077.0 717.9 L1079.0 718.1 L1081.0 718.3 L1083.0 718.5 L1085.0 718.7 L1087.0 719.0 L1089.0 719.2 L1091.0 719.4 L1093.0 719.6 L1095.0 719.8 L1097.0 720.0 L1099.0 720.2 L1101.0 720.4 L1103.0 720.6 L1105.0 720.8 L1107.0 721.0 L1109.0 721.2 L1111.0 721.4 L1113.0 721.6 L1115.0 721.8 L1117.0 722.0 L1119.0 722.2 L1121.0 722.4 L1123.0 722.6 L1125.0 722.8 L1127.0 723.0 L1129.0 723.2 L1131.0 723.4 L1133.0 723.6 L1135.0 723.8 L1137.0 723.9 L1139.0 724.1 L1141.0 724.3 L1143.0 724.5 L1145.0 724.7 L1147.0 724.8 L1149.0 725.0 L1151.0 725.2 L1153.0 725.4 L1155.0 725.5 L1157.0 725.7 L1159.0 725.9 L1161.0 726.1 L1163.0 726.2 L1165.0 726.4 L1167.0 726.6 L1169.0 726.7 L1171.0 726.9 L1173.0 727.0 L1175.0 727.2 L1177.0 727.4 L1179.0 727.5 L1181.0 727.7 L1183.0 727.8 L1185.0 728.0 L1187.0 728.1 L1189.0 728.3 L1191.0 728.4 L1193.0 728.6 L1195.0 728.7 L1197.0 728.9 L1199.0 729.0 L1201.0 729.2 L1203.0 729.3 L1205.0 729.5 L1207.0 729.6 L1209.0 729.8 L1211.0 729.9 L1213.0 730.0 L1215.0 730.2 L1217.0 730.3 L1219.0 730.4 L1221.0 730.6 L1223.0 730.7 L1225.0 730.8 L1227.0 731.0 L1229.0 731.1 L1231.0 731.2 L1233.0 731.4 L1235.0 731.5 L1237.0 731.6 L1239.0 731.7 L1241.0 731.8 L1243.0 732.0 L1245.0 732.1 L1247.0 732.2 L1249.0 732.3 L1251.0 732.4 L1253.0 732.6 L1255.0 732.7 L1257.0 732.8 L1259.0 732.9 L1261.0 733.0 L1263.0 733.1 L1265.0 733.2 L1267.0 733.4 L1269.0 733.5 L1271.0 733.6 L1273.0 733.7 L1275.0 733.8 L1277.0 733.9 L1279.0 734.0 L1281.0 734.1 L1283.0 734.2 L1285.0 734.3 L1287.0 734.4 L1289.0 734.5 L1291.0 734.6 L1293.0 734.7 L1295.0 734.8 L1297.0 734.9 L1299.0 735.0 L1301.0 735.1 L1303.0 735.2 L1305.0 735.2 L1307.0 735.3 L1309.0 735.4 L1311.0 735.5 L1313.0 735.6 L1315.0 735.7 L1317.0 735.8 L1319.0 735.8 L1321.0 735.9 L1323.0 736.0 L1325.0 736.1 L1327.0 736.2 L1329.0 736.3 L1331.0 736.3 L1333.0 736.4 L1335.0 736.5 L1337.0 736.6 L1339.0 736.6 L1341.0 736.7 L1343.0 736.8 L1345.0 736.9 L1347.0 736.9 L1349.0 737.0 L1351.0 737.1 L1353.0 737.1 L1355.0 737.2 L1357.0 737.3 L1359.0 737.4 L1361.0 737.4 L1363.0 737.5 L1365.0 737.5 L1367.0 737.6 L1369.0 737.7 L1371.0 737.7 L1373.0 737.8 L1375.0 737.9 L1377.0 737.9 L1379.0 738.0 L1381.0 738.0 L1383.0 738.1 L1385.0 738.2 L1387.0 738.2 L1389.0 738.3 L1391.0 738.3 L1393.0 738.4 L1395.0 738.4 L1397.0 738.5 L1399.0 738.5 L1401.0 738.6 L1403.0 738.6 L1405.0 738.7 L1407.0 738.7 L1409.0 738.8 L1411.0 738.8 L1413.0 738.9 L1415.0 738.9 L1417.0 739.0 L1419.0 739.0 L1421.0 739.1 L1423.0 739.1 L1425.0 739.2 L1427.0 739.2 L1429.0 739.3 L1431.0 739.3 L1433.0 739.3 L1435.0 739.4 L1437.0 739.4 L1439.0 739.5 L1441.0 739.5 L1443.0 739.5 L1445.0 739.6 L1447.0 739.6 L1449.0 739.7 L1451.0 739.7 L1453.0 739.7 L1455.0 739.8 L1457.0 739.8 L1459.0 739.8 L1461.0 739.9 L1463.0 739.9 L1465.0 740.0 L1467.0 740.0 L1469.0 740.0 L1471.0 740.1 L1473.0 740.1 L1475.0 740.1 L1477.0 740.2 L1479.0 740.2 L1481.0 740.2 L1483.0 740.3 L1485.0 740.3 L1487.0 740.3 L1489.0 740.4 L1491.0 740.4 L1493.0 740.4 L1495.0 740.4 L1497.0 740.5 L1499.0 740.5 L1501.0 740.5 L1503.0 740.6 L1505.0 740.6 L1507.0 740.6 L1509.0 740.7 L1511.0 740.7 L1513.0 740.7 L1515.0 740.8 L1517.0 740.8 L1519.0 740.8 L1521.0 740.8 L1523.0 740.9 L1525.0 740.9 L1527.0 740.9 L1529.0 741.0 L1531.0 741.0 L1533.0 741.0 L1535.0 741.1 L1537.0 741.1 L1539.0 741.1 L1541.0 741.1 L1543.0 741.2 L1545.0 741.2 L1547.0 741.2 L1549.0 741.3 L1551.0 741.3 L1553.0 741.3 L1555.0 741.4 L1557.0 741.4 L1559.0 741.4 L1561.0 741.5 L1563.0 741.5 L1565.0 741.5 L1567.0 741.6 L1569.0 741.6 L1571.0 741.6 L1573.0 741.7 L1575.0 741.7 L1577.0 741.7 L1579.0 741.8 L1581.0 741.8 L1583.0 741.8 L1585.0 741.9 L1587.0 741.9 L1589.0 742.0 L1591.0 742.0 L1593.0 742.0 L1595.0 742.1 L1597.0 742.1 L1599.0 742.2 L1601.0 742.2 L1603.0 742.3 L1605.0 742.3 L1607.0 742.3 L1609.0 742.4" stroke="#000" stroke-width="10.1" stroke-linecap="round" stroke-dasharray="15.50 28.14" stroke-dashoffset="0.83"/>
<path d="M251.0 441.6 L253.0 442.8 L255.0 444.0 L257.0 445.2 L259.0 446.4 L261.0 447.6 L263.0 448.8 L265.0 450.0 L267.0 451.2 L269.0 452.4 L271.0 453.6 L273.0 454.7 L275.0 455.9 L277.0 457.1 L279.0 458.3 L281.0 459.5 L283.0 460.6 L285.0 461.8 L287.0 463.0 L289.0 464.1 L291.0 465.3 L293.0 466.5 L295.0 467.6 L297.0 468.8 L299.0 470.0 L301.0 471.1 L303.0 472.3 L305.0 473.4 L307.0 474.6 L309.0 475.7 L311.0 476.9 L313.0 478.0 L315.0 479.1 L317.0 480.3 L319.0 481.4 L321.0 482.5 L323.0 483.7 L325.0 484.8 L327.0 485.9 L329.0 487.0 L331.0 488.1 L333.0 489.3 L335.0 490.4 L337.0 491.5 L339.0 492.6 L341.0 493.7 L343.0 494.8 L345.0 495.9 L347.0 497.0 L349.0 498.1 L351.0 499.2 L353.0 500.3 L355.0 501.4 L357.0 502.4 L359.0 503.5 L361.0 504.6 L363.0 505.7 L365.0 506.8 L367.0 507.8 L369.0 508.9 L371.0 510.0 L373.0 511.0 L375.0 512.1 L377.0 513.1 L379.0 514.2 L381.0 515.2 L383.0 516.3 L385.0 517.3 L387.0 518.4 L389.0 519.4 L391.0 520.5 L393.0 521.5 L395.0 522.5 L397.0 523.5 L399.0 524.6 L401.0 525.6 L403.0 526.6 L405.0 527.6 L407.0 528.6 L409.0 529.7 L411.0 530.7 L413.0 531.7 L415.0 532.7 L417.0 533.7 L419.0 534.7 L421.0 535.7 L423.0 536.6 L425.0 537.6 L427.0 538.6 L429.0 539.6 L431.0 540.6 L433.0 541.6 L435.0 542.5 L437.0 543.5 L439.0 544.5 L441.0 545.4 L443.0 546.4 L445.0 547.3 L447.0 548.3 L449.0 549.2 L451.0 550.2 L453.0 551.1 L455.0 552.1 L457.0 553.0 L459.0 554.0 L461.0 554.9 L463.0 555.8 L465.0 556.7 L467.0 557.7 L469.0 558.6 L471.0 559.5 L473.0 560.4 L475.0 561.3 L477.0 562.2 L479.0 563.1 L481.0 564.1 L483.0 565.0 L485.0 565.8 L487.0 566.7 L489.0 567.6 L491.0 568.5 L493.0 569.4 L495.0 570.3 L497.0 571.2 L499.0 572.0 L501.0 572.9 L503.0 573.8 L505.0 574.6 L507.0 575.5 L509.0 576.4 L511.0 577.2 L513.0 578.1 L515.0 578.9 L517.0 579.8 L519.0 580.6 L521.0 581.5 L523.0 582.3 L525.0 583.1 L527.0 584.0 L529.0 584.8 L531.0 585.6 L533.0 586.5 L535.0 587.3 L537.0 588.1 L539.0 588.9 L541.0 589.7 L543.0 590.5 L545.0 591.3 L547.0 592.1 L549.0 592.9 L551.0 593.7 L553.0 594.5 L555.0 595.3 L557.0 596.1 L559.0 596.9 L561.0 597.7 L563.0 598.5 L565.0 599.2 L567.0 600.0 L569.0 600.8 L571.0 601.5 L573.0 602.3 L575.0 603.1 L577.0 603.8 L579.0 604.6 L581.0 605.3 L583.0 606.1 L585.0 606.8 L587.0 607.6 L589.0 608.3 L591.0 609.1 L593.0 609.8 L595.0 610.5 L597.0 611.3 L599.0 612.0 L601.0 612.7 L603.0 613.4 L605.0 614.1 L607.0 614.9 L609.0 615.6 L611.0 616.3 L613.0 617.0 L615.0 617.7 L617.0 618.4 L619.0 619.1 L621.0 619.8 L623.0 620.5 L625.0 621.2 L627.0 621.9 L629.0 622.5 L631.0 623.2 L633.0 623.9 L635.0 624.6 L637.0 625.3 L639.0 625.9 L641.0 626.6 L643.0 627.3 L645.0 627.9 L647.0 628.6 L649.0 629.2 L651.0 629.9 L653.0 630.5 L655.0 631.2 L657.0 631.8 L659.0 632.5 L661.0 633.1 L663.0 633.7 L665.0 634.4 L667.0 635.0 L669.0 635.6 L671.0 636.3 L673.0 636.9 L675.0 637.5 L677.0 638.1 L679.0 638.7 L681.0 639.4 L683.0 640.0 L685.0 640.6 L687.0 641.2 L689.0 641.8 L691.0 642.4 L693.0 643.0 L695.0 643.6 L697.0 644.2 L699.0 644.8 L701.0 645.3 L703.0 645.9 L705.0 646.5 L707.0 647.1 L709.0 647.7 L711.0 648.2 L713.0 648.8 L715.0 649.4 L717.0 650.0 L719.0 650.5 L721.0 651.1 L723.0 651.6 L725.0 652.2 L727.0 652.7 L729.0 653.3 L731.0 653.9 L733.0 654.4 L735.0 654.9 L737.0 655.5 L739.0 656.0 L741.0 656.6 L743.0 657.1 L745.0 657.6 L747.0 658.2 L749.0 658.7 L751.0 659.2 L753.0 659.7 L755.0 660.3 L757.0 660.8 L759.0 661.3 L761.0 661.8 L763.0 662.3 L765.0 662.8 L767.0 663.3 L769.0 663.8 L771.0 664.3 L773.0 664.8 L775.0 665.3 L777.0 665.8 L779.0 666.3 L781.0 666.8 L783.0 667.3 L785.0 667.8 L787.0 668.3 L789.0 668.7 L791.0 669.2 L793.0 669.7 L795.0 670.2 L797.0 670.6 L799.0 671.1 L801.0 671.6 L803.0 672.0 L805.0 672.5 L807.0 673.0 L809.0 673.4 L811.0 673.9 L813.0 674.3 L815.0 674.8 L817.0 675.2 L819.0 675.7 L821.0 676.1 L823.0 676.6 L825.0 677.0 L827.0 677.5 L829.0 677.9 L831.0 678.3 L833.0 678.8 L835.0 679.2 L837.0 679.6 L839.0 680.0 L841.0 680.5 L843.0 680.9 L845.0 681.3 L847.0 681.7 L849.0 682.2 L851.0 682.6 L853.0 683.0 L855.0 683.4 L857.0 683.8 L859.0 684.2 L861.0 684.6 L863.0 685.0 L865.0 685.4 L867.0 685.8 L869.0 686.2 L871.0 686.6 L873.0 687.0 L875.0 687.4 L877.0 687.8 L879.0 688.2 L881.0 688.5 L883.0 688.9 L885.0 689.3 L887.0 689.7 L889.0 690.1 L891.0 690.4 L893.0 690.8 L895.0 691.2 L897.0 691.6 L899.0 691.9 L901.0 692.3 L903.0 692.6 L905.0 693.0 L907.0 693.4 L909.0 693.7 L911.0 694.1 L913.0 694.4 L915.0 694.8 L917.0 695.1 L919.0 695.5 L921.0 695.8 L923.0 696.2 L925.0 696.5 L927.0 696.9 L929.0 697.2 L931.0 697.6 L933.0 697.9 L935.0 698.2 L937.0 698.6 L939.0 698.9 L941.0 699.2 L943.0 699.5 L945.0 699.9 L947.0 700.2 L949.0 700.5 L951.0 700.8 L953.0 701.2 L955.0 701.5 L957.0 701.8 L959.0 702.1 L961.0 702.4 L963.0 702.7 L965.0 703.0 L967.0 703.3 L969.0 703.7 L971.0 704.0 L973.0 704.3 L975.0 704.6 L977.0 704.9 L979.0 705.2 L981.0 705.5 L983.0 705.7 L985.0 706.0 L987.0 706.3 L989.0 706.6 L991.0 706.9 L993.0 707.2 L995.0 707.5 L997.0 707.8 L999.0 708.0 L1001.0 708.3 L1003.0 708.6 L1005.0 708.9 L1007.0 709.2 L1009.0 709.4 L1011.0 709.7 L1013.0 710.0 L1015.0 710.2 L1017.0 710.5 L1019.0 710.8 L1021.0 711.0 L1023.0 711.3 L1025.0 711.6 L1027.0 711.8 L1029.0 712.1 L1031.0 712.3 L1033.0 712.6 L1035.0 712.9 L1037.0 713.1 L1039.0 713.4 L1041.0 713.6 L1043.0 713.9 L1045.0 714.1 L1047.0 714.3 L1049.0 714.6 L1051.0 714.8 L1053.0 715.1 L1055.0 715.3 L1057.0 715.5 L1059.0 715.8 L1061.0 716.0 L1063.0 716.3 L1065.0 716.5 L1067.0 716.7 L1069.0 716.9 L1071.0 717.2 L1073.0 717.4 L1075.0 717.6 L1077.0 717.9 L1079.0 718.1 L1081.0 718.3 L1083.0 718.5 L1085.0 718.7 L1087.0 719.0 L1089.0 719.2 L1091.0 719.4 L1093.0 719.6 L1095.0 719.8 L1097.0 720.0 L1099.0 720.2 L1101.0 720.4 L1103.0 720.6 L1105.0 720.8 L1107.0 721.0 L1109.0 721.2 L1111.0 721.4 L1113.0 721.6 L1115.0 721.8 L1117.0 722.0 L1119.0 722.2 L1121.0 722.4 L1123.0 722.6 L1125.0 722.8 L1127.0 723.0 L1129.0 723.2 L1131.0 723.4 L1133.0 723.6 L1135.0 723.8 L1137.0 723.9 L1139.0 724.1 L1141.0 724.3 L1143.0 724.5 L1145.0 724.7 L1147.0 724.8 L1149.0 725.0 L1151.0 725.2 L1153.0 725.4 L1155.0 725.5 L1157.0 725.7 L1159.0 725.9 L1161.0 726.1 L1163.0 726.2 L1165.0 726.4 L1167.0 726.6 L1169.0 726.7 L1171.0 726.9 L1173.0 727.0 L1175.0 727.2 L1177.0 727.4 L1179.0 727.5 L1181.0 727.7 L1183.0 727.8 L1185.0 728.0 L1187.0 728.1 L1189.0 728.3 L1191.0 728.4 L1193.0 728.6 L1195.0 728.7 L1197.0 728.9 L1199.0 729.0 L1201.0 729.2 L1203.0 729.3 L1205.0 729.5 L1207.0 729.6 L1209.0 729.8 L1211.0 729.9 L1213.0 730.0 L1215.0 730.2 L1217.0 730.3 L1219.0 730.4 L1221.0 730.6 L1223.0 730.7 L1225.0 730.8 L1227.0 731.0 L1229.0 731.1 L1231.0 731.2 L1233.0 731.4 L1235.0 731.5 L1237.0 731.6 L1239.0 731.7 L1241.0 731.8 L1243.0 732.0 L1245.0 732.1 L1247.0 732.2 L1249.0 732.3 L1251.0 732.4 L1253.0 732.6 L1255.0 732.7 L1257.0 732.8 L1259.0 732.9 L1261.0 733.0 L1263.0 733.1 L1265.0 733.2 L1267.0 733.4 L1269.0 733.5 L1271.0 733.6 L1273.0 733.7 L1275.0 733.8 L1277.0 733.9 L1279.0 734.0 L1281.0 734.1 L1283.0 734.2 L1285.0 734.3 L1287.0 734.4 L1289.0 734.5 L1291.0 734.6 L1293.0 734.7 L1295.0 734.8 L1297.0 734.9 L1299.0 735.0 L1301.0 735.1 L1303.0 735.2 L1305.0 735.2 L1307.0 735.3 L1309.0 735.4 L1311.0 735.5 L1313.0 735.6 L1315.0 735.7 L1317.0 735.8 L1319.0 735.8 L1321.0 735.9 L1323.0 736.0 L1325.0 736.1 L1327.0 736.2 L1329.0 736.3 L1331.0 736.3 L1333.0 736.4 L1335.0 736.5 L1337.0 736.6 L1339.0 736.6 L1341.0 736.7 L1343.0 736.8 L1345.0 736.9 L1347.0 736.9 L1349.0 737.0 L1351.0 737.1 L1353.0 737.1 L1355.0 737.2 L1357.0 737.3 L1359.0 737.4 L1361.0 737.4 L1363.0 737.5 L1365.0 737.5 L1367.0 737.6 L1369.0 737.7 L1371.0 737.7 L1373.0 737.8 L1375.0 737.9 L1377.0 737.9 L1379.0 738.0 L1381.0 738.0 L1383.0 738.1 L1385.0 738.2 L1387.0 738.2 L1389.0 738.3 L1391.0 738.3 L1393.0 738.4 L1395.0 738.4 L1397.0 738.5 L1399.0 738.5 L1401.0 738.6 L1403.0 738.6 L1405.0 738.7 L1407.0 738.7 L1409.0 738.8 L1411.0 738.8 L1413.0 738.9 L1415.0 738.9 L1417.0 739.0 L1419.0 739.0 L1421.0 739.1 L1423.0 739.1 L1425.0 739.2 L1427.0 739.2 L1429.0 739.3 L1431.0 739.3 L1433.0 739.3 L1435.0 739.4 L1437.0 739.4 L1439.0 739.5 L1441.0 739.5 L1443.0 739.5 L1445.0 739.6 L1447.0 739.6 L1449.0 739.7 L1451.0 739.7 L1453.0 739.7 L1455.0 739.8 L1457.0 739.8 L1459.0 739.8 L1461.0 739.9 L1463.0 739.9 L1465.0 740.0 L1467.0 740.0 L1469.0 740.0 L1471.0 740.1 L1473.0 740.1 L1475.0 740.1 L1477.0 740.2 L1479.0 740.2 L1481.0 740.2 L1483.0 740.3 L1485.0 740.3 L1487.0 740.3 L1489.0 740.4 L1491.0 740.4 L1493.0 740.4 L1495.0 740.4 L1497.0 740.5 L1499.0 740.5 L1501.0 740.5 L1503.0 740.6 L1505.0 740.6 L1507.0 740.6 L1509.0 740.7 L1511.0 740.7 L1513.0 740.7 L1515.0 740.8 L1517.0 740.8 L1519.0 740.8 L1521.0 740.8 L1523.0 740.9 L1525.0 740.9 L1527.0 740.9 L1529.0 741.0 L1531.0 741.0 L1533.0 741.0 L1535.0 741.1 L1537.0 741.1 L1539.0 741.1 L1541.0 741.1 L1543.0 741.2 L1545.0 741.2 L1547.0 741.2 L1549.0 741.3 L1551.0 741.3 L1553.0 741.3 L1555.0 741.4 L1557.0 741.4 L1559.0 741.4 L1561.0 741.5 L1563.0 741.5 L1565.0 741.5 L1567.0 741.6 L1569.0 741.6 L1571.0 741.6 L1573.0 741.7 L1575.0 741.7 L1577.0 741.7 L1579.0 741.8 L1581.0 741.8 L1583.0 741.8 L1585.0 741.9 L1587.0 741.9 L1589.0 742.0 L1591.0 742.0 L1593.0 742.0 L1595.0 742.1 L1597.0 742.1 L1599.0 742.2 L1601.0 742.2 L1603.0 742.3 L1605.0 742.3 L1607.0 742.3 L1609.0 742.4" stroke="#000" stroke-width="10.1" stroke-dasharray="22.60 21.04" stroke-dashoffset="4.38"/>
<path d="M251.0 658.0 L253.0 658.9 L255.0 659.8 L257.0 660.8 L259.0 661.7 L261.0 662.6 L263.0 663.5 L265.0 664.4 L267.0 665.3 L269.0 666.3 L271.0 667.2 L273.0 668.1 L275.0 669.0 L277.0 669.9 L279.0 670.8 L281.0 671.7 L283.0 672.6 L285.0 673.4 L287.0 674.3 L289.0 675.2 L291.0 676.1 L293.0 677.0 L295.0 677.8 L297.0 678.7 L299.0 679.6 L301.0 680.4 L303.0 681.3 L305.0 682.2 L307.0 683.0 L309.0 683.9 L311.0 684.7 L313.0 685.6 L315.0 686.4 L317.0 687.3 L319.0 688.1 L321.0 689.0 L323.0 689.8 L325.0 690.6 L327.0 691.5 L329.0 692.3 L331.0 693.1 L333.0 693.9 L335.0 694.8 L337.0 695.6 L339.0 696.4 L341.0 697.2 L343.0 698.0 L345.0 698.8 L347.0 699.6 L349.0 700.4 L351.0 701.2 L353.0 702.0 L355.0 702.8 L357.0 703.6 L359.0 704.4 L361.0 705.2 L363.0 706.0 L365.0 706.7 L367.0 707.5 L369.0 708.3 L371.0 709.1 L373.0 709.8 L375.0 710.6 L377.0 711.4 L379.0 712.1 L381.0 712.9 L383.0 713.7 L385.0 714.4 L387.0 715.2 L389.0 715.9 L391.0 716.7 L393.0 717.4 L395.0 718.2 L397.0 718.9 L399.0 719.6 L401.0 720.4 L403.0 721.1 L405.0 721.9 L407.0 722.6 L409.0 723.3 L411.0 724.0 L413.0 724.8 L415.0 725.5 L417.0 726.2 L419.0 726.9 L421.0 727.6 L423.0 728.3 L425.0 729.0 L427.0 729.7 L429.0 730.4 L431.0 731.1 L433.0 731.8 L435.0 732.5 L437.0 733.2 L439.0 733.9 L441.0 734.6 L443.0 735.3 L445.0 736.0 L447.0 736.7 L449.0 737.3 L451.0 738.0 L453.0 738.7 L455.0 739.4 L457.0 740.0 L459.0 740.7 L461.0 741.4 L463.0 742.0 L465.0 742.7 L467.0 743.3 L469.0 744.0 L471.0 744.7 L473.0 745.3 L475.0 746.0 L477.0 746.6 L479.0 747.2 L481.0 747.9 L483.0 748.5 L485.0 749.2 L487.0 749.8 L489.0 750.4 L491.0 751.1 L493.0 751.7 L495.0 752.3 L497.0 752.9 L499.0 753.6 L501.0 754.2 L503.0 754.8 L505.0 755.4 L507.0 756.0 L509.0 756.6 L511.0 757.3 L513.0 757.9 L515.0 758.5 L517.0 759.1 L519.0 759.7 L521.0 760.3 L523.0 760.9 L525.0 761.5 L527.0 762.1 L529.0 762.6 L531.0 763.2 L533.0 763.8 L535.0 764.4 L537.0 765.0 L539.0 765.6 L541.0 766.1 L543.0 766.7 L545.0 767.3 L547.0 767.9 L549.0 768.4 L551.0 769.0 L553.0 769.6 L555.0 770.1 L557.0 770.7 L559.0 771.2 L561.0 771.8 L563.0 772.3 L565.0 772.9 L567.0 773.4 L569.0 774.0 L571.0 774.5 L573.0 775.1 L575.0 775.6 L577.0 776.2 L579.0 776.7 L581.0 777.2 L583.0 777.8 L585.0 778.3 L587.0 778.8 L589.0 779.4 L591.0 779.9 L593.0 780.4 L595.0 780.9 L597.0 781.5 L599.0 782.0 L601.0 782.5 L603.0 783.0 L605.0 783.5 L607.0 784.0 L609.0 784.5 L611.0 785.0 L613.0 785.5 L615.0 786.0 L617.0 786.5 L619.0 787.0 L621.0 787.5 L623.0 788.0 L625.0 788.5 L627.0 789.0 L629.0 789.5 L631.0 790.0 L633.0 790.5 L635.0 790.9 L637.0 791.4 L639.0 791.9 L641.0 792.4 L643.0 792.9 L645.0 793.3 L647.0 793.8 L649.0 794.3 L651.0 794.7 L653.0 795.2 L655.0 795.7 L657.0 796.1 L659.0 796.6 L661.0 797.0 L663.0 797.5 L665.0 798.0 L667.0 798.4 L669.0 798.9 L671.0 799.3 L673.0 799.8 L675.0 800.2 L677.0 800.6 L679.0 801.1 L681.0 801.5 L683.0 802.0 L685.0 802.4 L687.0 802.8 L689.0 803.3 L691.0 803.7 L693.0 804.1 L695.0 804.6 L697.0 805.0 L699.0 805.4 L701.0 805.8 L703.0 806.2 L705.0 806.7 L707.0 807.1 L709.0 807.5 L711.0 807.9 L713.0 808.3 L715.0 808.7 L717.0 809.1 L719.0 809.5 L721.0 809.9 L723.0 810.3 L725.0 810.7 L727.0 811.1 L729.0 811.5 L731.0 811.9 L733.0 812.3 L735.0 812.7 L737.0 813.1 L739.0 813.5 L741.0 813.9 L743.0 814.3 L745.0 814.7 L747.0 815.0 L749.0 815.4 L751.0 815.8 L753.0 816.2 L755.0 816.5 L757.0 816.9 L759.0 817.3 L761.0 817.7 L763.0 818.0 L765.0 818.4 L767.0 818.8 L769.0 819.1 L771.0 819.5 L773.0 819.8 L775.0 820.2 L777.0 820.6 L779.0 820.9 L781.0 821.3 L783.0 821.6 L785.0 822.0 L787.0 822.3 L789.0 822.7 L791.0 823.0 L793.0 823.4 L795.0 823.7 L797.0 824.0 L799.0 824.4 L801.0 824.7 L803.0 825.1 L805.0 825.4 L807.0 825.7 L809.0 826.0 L811.0 826.4 L813.0 826.7 L815.0 827.0 L817.0 827.4 L819.0 827.7 L821.0 828.0 L823.0 828.3 L825.0 828.6 L827.0 829.0 L829.0 829.3 L831.0 829.6 L833.0 829.9 L835.0 830.2 L837.0 830.5 L839.0 830.8 L841.0 831.1 L843.0 831.4 L845.0 831.7 L847.0 832.0 L849.0 832.3 L851.0 832.6 L853.0 832.9 L855.0 833.2 L857.0 833.5 L859.0 833.8 L861.0 834.1 L863.0 834.4 L865.0 834.7 L867.0 835.0 L869.0 835.3 L871.0 835.6 L873.0 835.8 L875.0 836.1 L877.0 836.4 L879.0 836.7 L881.0 837.0 L883.0 837.2 L885.0 837.5 L887.0 837.8 L889.0 838.1 L891.0 838.3 L893.0 838.6 L895.0 838.9 L897.0 839.1 L899.0 839.4 L901.0 839.7 L903.0 839.9 L905.0 840.2 L907.0 840.4 L909.0 840.7 L911.0 840.9 L913.0 841.2 L915.0 841.5 L917.0 841.7 L919.0 842.0 L921.0 842.2 L923.0 842.5 L925.0 842.7 L927.0 842.9 L929.0 843.2 L931.0 843.4 L933.0 843.7 L935.0 843.9 L937.0 844.2 L939.0 844.4 L941.0 844.6 L943.0 844.9 L945.0 845.1 L947.0 845.3 L949.0 845.6 L951.0 845.8 L953.0 846.0 L955.0 846.2 L957.0 846.5 L959.0 846.7 L961.0 846.9 L963.0 847.1 L965.0 847.4 L967.0 847.6 L969.0 847.8 L971.0 848.0 L973.0 848.2 L975.0 848.4 L977.0 848.7 L979.0 848.9 L981.0 849.1 L983.0 849.3 L985.0 849.5 L987.0 849.7 L989.0 849.9 L991.0 850.1 L993.0 850.3 L995.0 850.5 L997.0 850.7 L999.0 850.9 L1001.0 851.1 L1003.0 851.3 L1005.0 851.5 L1007.0 851.7 L1009.0 851.9 L1011.0 852.1 L1013.0 852.3 L1015.0 852.5 L1017.0 852.7 L1019.0 852.8 L1021.0 853.0 L1023.0 853.2 L1025.0 853.4 L1027.0 853.6 L1029.0 853.8 L1031.0 853.9 L1033.0 854.1 L1035.0 854.3 L1037.0 854.5 L1039.0 854.7 L1041.0 854.8 L1043.0 855.0 L1045.0 855.2 L1047.0 855.3 L1049.0 855.5 L1051.0 855.7 L1053.0 855.9 L1055.0 856.0 L1057.0 856.2 L1059.0 856.4 L1061.0 856.5 L1063.0 856.7 L1065.0 856.8 L1067.0 857.0 L1069.0 857.2 L1071.0 857.3 L1073.0 857.5 L1075.0 857.6 L1077.0 857.8 L1079.0 857.9 L1081.0 858.1 L1083.0 858.3 L1085.0 858.4 L1087.0 858.6 L1089.0 858.7 L1091.0 858.9 L1093.0 859.0 L1095.0 859.1 L1097.0 859.3 L1099.0 859.4 L1101.0 859.6 L1103.0 859.7 L1105.0 859.9 L1107.0 860.0 L1109.0 860.1 L1111.0 860.3 L1113.0 860.4 L1115.0 860.6 L1117.0 860.7 L1119.0 860.8 L1121.0 861.0 L1123.0 861.1 L1125.0 861.2 L1127.0 861.3 L1129.0 861.5 L1131.0 861.6 L1133.0 861.7 L1135.0 861.9 L1137.0 862.0 L1139.0 862.1 L1141.0 862.2 L1143.0 862.4 L1145.0 862.5 L1147.0 862.6 L1149.0 862.7 L1151.0 862.8 L1153.0 863.0 L1155.0 863.1 L1157.0 863.2 L1159.0 863.3 L1161.0 863.4 L1163.0 863.5 L1165.0 863.7 L1167.0 863.8 L1169.0 863.9 L1171.0 864.0 L1173.0 864.1 L1175.0 864.2 L1177.0 864.3 L1179.0 864.4 L1181.0 864.5 L1183.0 864.6 L1185.0 864.7 L1187.0 864.8 L1189.0 864.9 L1191.0 865.0 L1193.0 865.1 L1195.0 865.2 L1197.0 865.3 L1199.0 865.4 L1201.0 865.5 L1203.0 865.6 L1205.0 865.7 L1207.0 865.8 L1209.0 865.9 L1211.0 866.0 L1213.0 866.1 L1215.0 866.2 L1217.0 866.3 L1219.0 866.4 L1221.0 866.5 L1223.0 866.6 L1225.0 866.7 L1227.0 866.8 L1229.0 866.8 L1231.0 866.9 L1233.0 867.0 L1235.0 867.1 L1237.0 867.2 L1239.0 867.3 L1241.0 867.3 L1243.0 867.4 L1245.0 867.5 L1247.0 867.6 L1249.0 867.7 L1251.0 867.8 L1253.0 867.8 L1255.0 867.9 L1257.0 868.0 L1259.0 868.1 L1261.0 868.1 L1263.0 868.2 L1265.0 868.3 L1267.0 868.4 L1269.0 868.4 L1271.0 868.5 L1273.0 868.6 L1275.0 868.7 L1277.0 868.7 L1279.0 868.8 L1281.0 868.9 L1283.0 868.9 L1285.0 869.0 L1287.0 869.1 L1289.0 869.1 L1291.0 869.2 L1293.0 869.3 L1295.0 869.3 L1297.0 869.4 L1299.0 869.5 L1301.0 869.5 L1303.0 869.6 L1305.0 869.7 L1307.0 869.7 L1309.0 869.8 L1311.0 869.8 L1313.0 869.9 L1315.0 870.0 L1317.0 870.0 L1319.0 870.1 L1321.0 870.1 L1323.0 870.2 L1325.0 870.2 L1327.0 870.3 L1329.0 870.4 L1331.0 870.4 L1333.0 870.5 L1335.0 870.5 L1337.0 870.6 L1339.0 870.6 L1341.0 870.7 L1343.0 870.7 L1345.0 870.8 L1347.0 870.8 L1349.0 870.9 L1351.0 870.9 L1353.0 871.0 L1355.0 871.0 L1357.0 871.1 L1359.0 871.1 L1361.0 871.2 L1363.0 871.2 L1365.0 871.3 L1367.0 871.3 L1369.0 871.4 L1371.0 871.4 L1373.0 871.5 L1375.0 871.5 L1377.0 871.6 L1379.0 871.6 L1381.0 871.6 L1383.0 871.7 L1385.0 871.7 L1387.0 871.8 L1389.0 871.8 L1391.0 871.9 L1393.0 871.9 L1395.0 871.9 L1397.0 872.0 L1399.0 872.0 L1401.0 872.1 L1403.0 872.1 L1405.0 872.1 L1407.0 872.2 L1409.0 872.2 L1411.0 872.3 L1413.0 872.3 L1415.0 872.3 L1417.0 872.4 L1419.0 872.4 L1421.0 872.4 L1423.0 872.5 L1425.0 872.5 L1427.0 872.6 L1429.0 872.6 L1431.0 872.6 L1433.0 872.7 L1435.0 872.7 L1437.0 872.7 L1439.0 872.8 L1441.0 872.8 L1443.0 872.8 L1445.0 872.9 L1447.0 872.9 L1449.0 872.9 L1451.0 873.0 L1453.0 873.0 L1455.0 873.0 L1457.0 873.1 L1459.0 873.1 L1461.0 873.1 L1463.0 873.2 L1465.0 873.2 L1467.0 873.2 L1469.0 873.2 L1471.0 873.3 L1473.0 873.3 L1475.0 873.3 L1477.0 873.4 L1479.0 873.4 L1481.0 873.4 L1483.0 873.5 L1485.0 873.5 L1487.0 873.5 L1489.0 873.5 L1491.0 873.6 L1493.0 873.6 L1495.0 873.6 L1497.0 873.7 L1499.0 873.7 L1501.0 873.7 L1503.0 873.7 L1505.0 873.8 L1507.0 873.8 L1509.0 873.8 L1511.0 873.8 L1513.0 873.9 L1515.0 873.9 L1517.0 873.9 L1519.0 874.0 L1521.0 874.0 L1523.0 874.0 L1525.0 874.0 L1527.0 874.1 L1529.0 874.1 L1531.0 874.1 L1533.0 874.1 L1535.0 874.2 L1537.0 874.2 L1539.0 874.2 L1541.0 874.3 L1543.0 874.3 L1545.0 874.3 L1547.0 874.3 L1549.0 874.4 L1551.0 874.4 L1553.0 874.4 L1555.0 874.4 L1557.0 874.5 L1559.0 874.5 L1561.0 874.5 L1563.0 874.5 L1565.0 874.6 L1567.0 874.6 L1569.0 874.6 L1571.0 874.6 L1573.0 874.7 L1575.0 874.7 L1577.0 874.7 L1579.0 874.8 L1581.0 874.8 L1583.0 874.8 L1585.0 874.8 L1587.0 874.9 L1589.0 874.9 L1591.0 874.9 L1593.0 874.9 L1595.0 875.0 L1597.0 875.0 L1599.0 875.0 L1601.0 875.1 L1603.0 875.1 L1605.0 875.1 L1607.0 875.1 L1609.0 875.2" stroke="#ff0000" stroke-width="10.1" stroke-linecap="round" stroke-dasharray="15.50 28.15" stroke-dashoffset="0.14"/>
<path d="M251.0 658.0 L253.0 658.9 L255.0 659.8 L257.0 660.8 L259.0 661.7 L261.0 662.6 L263.0 663.5 L265.0 664.4 L267.0 665.3 L269.0 666.3 L271.0 667.2 L273.0 668.1 L275.0 669.0 L277.0 669.9 L279.0 670.8 L281.0 671.7 L283.0 672.6 L285.0 673.4 L287.0 674.3 L289.0 675.2 L291.0 676.1 L293.0 677.0 L295.0 677.8 L297.0 678.7 L299.0 679.6 L301.0 680.4 L303.0 681.3 L305.0 682.2 L307.0 683.0 L309.0 683.9 L311.0 684.7 L313.0 685.6 L315.0 686.4 L317.0 687.3 L319.0 688.1 L321.0 689.0 L323.0 689.8 L325.0 690.6 L327.0 691.5 L329.0 692.3 L331.0 693.1 L333.0 693.9 L335.0 694.8 L337.0 695.6 L339.0 696.4 L341.0 697.2 L343.0 698.0 L345.0 698.8 L347.0 699.6 L349.0 700.4 L351.0 701.2 L353.0 702.0 L355.0 702.8 L357.0 703.6 L359.0 704.4 L361.0 705.2 L363.0 706.0 L365.0 706.7 L367.0 707.5 L369.0 708.3 L371.0 709.1 L373.0 709.8 L375.0 710.6 L377.0 711.4 L379.0 712.1 L381.0 712.9 L383.0 713.7 L385.0 714.4 L387.0 715.2 L389.0 715.9 L391.0 716.7 L393.0 717.4 L395.0 718.2 L397.0 718.9 L399.0 719.6 L401.0 720.4 L403.0 721.1 L405.0 721.9 L407.0 722.6 L409.0 723.3 L411.0 724.0 L413.0 724.8 L415.0 725.5 L417.0 726.2 L419.0 726.9 L421.0 727.6 L423.0 728.3 L425.0 729.0 L427.0 729.7 L429.0 730.4 L431.0 731.1 L433.0 731.8 L435.0 732.5 L437.0 733.2 L439.0 733.9 L441.0 734.6 L443.0 735.3 L445.0 736.0 L447.0 736.7 L449.0 737.3 L451.0 738.0 L453.0 738.7 L455.0 739.4 L457.0 740.0 L459.0 740.7 L461.0 741.4 L463.0 742.0 L465.0 742.7 L467.0 743.3 L469.0 744.0 L471.0 744.7 L473.0 745.3 L475.0 746.0 L477.0 746.6 L479.0 747.2 L481.0 747.9 L483.0 748.5 L485.0 749.2 L487.0 749.8 L489.0 750.4 L491.0 751.1 L493.0 751.7 L495.0 752.3 L497.0 752.9 L499.0 753.6 L501.0 754.2 L503.0 754.8 L505.0 755.4 L507.0 756.0 L509.0 756.6 L511.0 757.3 L513.0 757.9 L515.0 758.5 L517.0 759.1 L519.0 759.7 L521.0 760.3 L523.0 760.9 L525.0 761.5 L527.0 762.1 L529.0 762.6 L531.0 763.2 L533.0 763.8 L535.0 764.4 L537.0 765.0 L539.0 765.6 L541.0 766.1 L543.0 766.7 L545.0 767.3 L547.0 767.9 L549.0 768.4 L551.0 769.0 L553.0 769.6 L555.0 770.1 L557.0 770.7 L559.0 771.2 L561.0 771.8 L563.0 772.3 L565.0 772.9 L567.0 773.4 L569.0 774.0 L571.0 774.5 L573.0 775.1 L575.0 775.6 L577.0 776.2 L579.0 776.7 L581.0 777.2 L583.0 777.8 L585.0 778.3 L587.0 778.8 L589.0 779.4 L591.0 779.9 L593.0 780.4 L595.0 780.9 L597.0 781.5 L599.0 782.0 L601.0 782.5 L603.0 783.0 L605.0 783.5 L607.0 784.0 L609.0 784.5 L611.0 785.0 L613.0 785.5 L615.0 786.0 L617.0 786.5 L619.0 787.0 L621.0 787.5 L623.0 788.0 L625.0 788.5 L627.0 789.0 L629.0 789.5 L631.0 790.0 L633.0 790.5 L635.0 790.9 L637.0 791.4 L639.0 791.9 L641.0 792.4 L643.0 792.9 L645.0 793.3 L647.0 793.8 L649.0 794.3 L651.0 794.7 L653.0 795.2 L655.0 795.7 L657.0 796.1 L659.0 796.6 L661.0 797.0 L663.0 797.5 L665.0 798.0 L667.0 798.4 L669.0 798.9 L671.0 799.3 L673.0 799.8 L675.0 800.2 L677.0 800.6 L679.0 801.1 L681.0 801.5 L683.0 802.0 L685.0 802.4 L687.0 802.8 L689.0 803.3 L691.0 803.7 L693.0 804.1 L695.0 804.6 L697.0 805.0 L699.0 805.4 L701.0 805.8 L703.0 806.2 L705.0 806.7 L707.0 807.1 L709.0 807.5 L711.0 807.9 L713.0 808.3 L715.0 808.7 L717.0 809.1 L719.0 809.5 L721.0 809.9 L723.0 810.3 L725.0 810.7 L727.0 811.1 L729.0 811.5 L731.0 811.9 L733.0 812.3 L735.0 812.7 L737.0 813.1 L739.0 813.5 L741.0 813.9 L743.0 814.3 L745.0 814.7 L747.0 815.0 L749.0 815.4 L751.0 815.8 L753.0 816.2 L755.0 816.5 L757.0 816.9 L759.0 817.3 L761.0 817.7 L763.0 818.0 L765.0 818.4 L767.0 818.8 L769.0 819.1 L771.0 819.5 L773.0 819.8 L775.0 820.2 L777.0 820.6 L779.0 820.9 L781.0 821.3 L783.0 821.6 L785.0 822.0 L787.0 822.3 L789.0 822.7 L791.0 823.0 L793.0 823.4 L795.0 823.7 L797.0 824.0 L799.0 824.4 L801.0 824.7 L803.0 825.1 L805.0 825.4 L807.0 825.7 L809.0 826.0 L811.0 826.4 L813.0 826.7 L815.0 827.0 L817.0 827.4 L819.0 827.7 L821.0 828.0 L823.0 828.3 L825.0 828.6 L827.0 829.0 L829.0 829.3 L831.0 829.6 L833.0 829.9 L835.0 830.2 L837.0 830.5 L839.0 830.8 L841.0 831.1 L843.0 831.4 L845.0 831.7 L847.0 832.0 L849.0 832.3 L851.0 832.6 L853.0 832.9 L855.0 833.2 L857.0 833.5 L859.0 833.8 L861.0 834.1 L863.0 834.4 L865.0 834.7 L867.0 835.0 L869.0 835.3 L871.0 835.6 L873.0 835.8 L875.0 836.1 L877.0 836.4 L879.0 836.7 L881.0 837.0 L883.0 837.2 L885.0 837.5 L887.0 837.8 L889.0 838.1 L891.0 838.3 L893.0 838.6 L895.0 838.9 L897.0 839.1 L899.0 839.4 L901.0 839.7 L903.0 839.9 L905.0 840.2 L907.0 840.4 L909.0 840.7 L911.0 840.9 L913.0 841.2 L915.0 841.5 L917.0 841.7 L919.0 842.0 L921.0 842.2 L923.0 842.5 L925.0 842.7 L927.0 842.9 L929.0 843.2 L931.0 843.4 L933.0 843.7 L935.0 843.9 L937.0 844.2 L939.0 844.4 L941.0 844.6 L943.0 844.9 L945.0 845.1 L947.0 845.3 L949.0 845.6 L951.0 845.8 L953.0 846.0 L955.0 846.2 L957.0 846.5 L959.0 846.7 L961.0 846.9 L963.0 847.1 L965.0 847.4 L967.0 847.6 L969.0 847.8 L971.0 848.0 L973.0 848.2 L975.0 848.4 L977.0 848.7 L979.0 848.9 L981.0 849.1 L983.0 849.3 L985.0 849.5 L987.0 849.7 L989.0 849.9 L991.0 850.1 L993.0 850.3 L995.0 850.5 L997.0 850.7 L999.0 850.9 L1001.0 851.1 L1003.0 851.3 L1005.0 851.5 L1007.0 851.7 L1009.0 851.9 L1011.0 852.1 L1013.0 852.3 L1015.0 852.5 L1017.0 852.7 L1019.0 852.8 L1021.0 853.0 L1023.0 853.2 L1025.0 853.4 L1027.0 853.6 L1029.0 853.8 L1031.0 853.9 L1033.0 854.1 L1035.0 854.3 L1037.0 854.5 L1039.0 854.7 L1041.0 854.8 L1043.0 855.0 L1045.0 855.2 L1047.0 855.3 L1049.0 855.5 L1051.0 855.7 L1053.0 855.9 L1055.0 856.0 L1057.0 856.2 L1059.0 856.4 L1061.0 856.5 L1063.0 856.7 L1065.0 856.8 L1067.0 857.0 L1069.0 857.2 L1071.0 857.3 L1073.0 857.5 L1075.0 857.6 L1077.0 857.8 L1079.0 857.9 L1081.0 858.1 L1083.0 858.3 L1085.0 858.4 L1087.0 858.6 L1089.0 858.7 L1091.0 858.9 L1093.0 859.0 L1095.0 859.1 L1097.0 859.3 L1099.0 859.4 L1101.0 859.6 L1103.0 859.7 L1105.0 859.9 L1107.0 860.0 L1109.0 860.1 L1111.0 860.3 L1113.0 860.4 L1115.0 860.6 L1117.0 860.7 L1119.0 860.8 L1121.0 861.0 L1123.0 861.1 L1125.0 861.2 L1127.0 861.3 L1129.0 861.5 L1131.0 861.6 L1133.0 861.7 L1135.0 861.9 L1137.0 862.0 L1139.0 862.1 L1141.0 862.2 L1143.0 862.4 L1145.0 862.5 L1147.0 862.6 L1149.0 862.7 L1151.0 862.8 L1153.0 863.0 L1155.0 863.1 L1157.0 863.2 L1159.0 863.3 L1161.0 863.4 L1163.0 863.5 L1165.0 863.7 L1167.0 863.8 L1169.0 863.9 L1171.0 864.0 L1173.0 864.1 L1175.0 864.2 L1177.0 864.3 L1179.0 864.4 L1181.0 864.5 L1183.0 864.6 L1185.0 864.7 L1187.0 864.8 L1189.0 864.9 L1191.0 865.0 L1193.0 865.1 L1195.0 865.2 L1197.0 865.3 L1199.0 865.4 L1201.0 865.5 L1203.0 865.6 L1205.0 865.7 L1207.0 865.8 L1209.0 865.9 L1211.0 866.0 L1213.0 866.1 L1215.0 866.2 L1217.0 866.3 L1219.0 866.4 L1221.0 866.5 L1223.0 866.6 L1225.0 866.7 L1227.0 866.8 L1229.0 866.8 L1231.0 866.9 L1233.0 867.0 L1235.0 867.1 L1237.0 867.2 L1239.0 867.3 L1241.0 867.3 L1243.0 867.4 L1245.0 867.5 L1247.0 867.6 L1249.0 867.7 L1251.0 867.8 L1253.0 867.8 L1255.0 867.9 L1257.0 868.0 L1259.0 868.1 L1261.0 868.1 L1263.0 868.2 L1265.0 868.3 L1267.0 868.4 L1269.0 868.4 L1271.0 868.5 L1273.0 868.6 L1275.0 868.7 L1277.0 868.7 L1279.0 868.8 L1281.0 868.9 L1283.0 868.9 L1285.0 869.0 L1287.0 869.1 L1289.0 869.1 L1291.0 869.2 L1293.0 869.3 L1295.0 869.3 L1297.0 869.4 L1299.0 869.5 L1301.0 869.5 L1303.0 869.6 L1305.0 869.7 L1307.0 869.7 L1309.0 869.8 L1311.0 869.8 L1313.0 869.9 L1315.0 870.0 L1317.0 870.0 L1319.0 870.1 L1321.0 870.1 L1323.0 870.2 L1325.0 870.2 L1327.0 870.3 L1329.0 870.4 L1331.0 870.4 L1333.0 870.5 L1335.0 870.5 L1337.0 870.6 L1339.0 870.6 L1341.0 870.7 L1343.0 870.7 L1345.0 870.8 L1347.0 870.8 L1349.0 870.9 L1351.0 870.9 L1353.0 871.0 L1355.0 871.0 L1357.0 871.1 L1359.0 871.1 L1361.0 871.2 L1363.0 871.2 L1365.0 871.3 L1367.0 871.3 L1369.0 871.4 L1371.0 871.4 L1373.0 871.5 L1375.0 871.5 L1377.0 871.6 L1379.0 871.6 L1381.0 871.6 L1383.0 871.7 L1385.0 871.7 L1387.0 871.8 L1389.0 871.8 L1391.0 871.9 L1393.0 871.9 L1395.0 871.9 L1397.0 872.0 L1399.0 872.0 L1401.0 872.1 L1403.0 872.1 L1405.0 872.1 L1407.0 872.2 L1409.0 872.2 L1411.0 872.3 L1413.0 872.3 L1415.0 872.3 L1417.0 872.4 L1419.0 872.4 L1421.0 872.4 L1423.0 872.5 L1425.0 872.5 L1427.0 872.6 L1429.0 872.6 L1431.0 872.6 L1433.0 872.7 L1435.0 872.7 L1437.0 872.7 L1439.0 872.8 L1441.0 872.8 L1443.0 872.8 L1445.0 872.9 L1447.0 872.9 L1449.0 872.9 L1451.0 873.0 L1453.0 873.0 L1455.0 873.0 L1457.0 873.1 L1459.0 873.1 L1461.0 873.1 L1463.0 873.2 L1465.0 873.2 L1467.0 873.2 L1469.0 873.2 L1471.0 873.3 L1473.0 873.3 L1475.0 873.3 L1477.0 873.4 L1479.0 873.4 L1481.0 873.4 L1483.0 873.5 L1485.0 873.5 L1487.0 873.5 L1489.0 873.5 L1491.0 873.6 L1493.0 873.6 L1495.0 873.6 L1497.0 873.7 L1499.0 873.7 L1501.0 873.7 L1503.0 873.7 L1505.0 873.8 L1507.0 873.8 L1509.0 873.8 L1511.0 873.8 L1513.0 873.9 L1515.0 873.9 L1517.0 873.9 L1519.0 874.0 L1521.0 874.0 L1523.0 874.0 L1525.0 874.0 L1527.0 874.1 L1529.0 874.1 L1531.0 874.1 L1533.0 874.1 L1535.0 874.2 L1537.0 874.2 L1539.0 874.2 L1541.0 874.3 L1543.0 874.3 L1545.0 874.3 L1547.0 874.3 L1549.0 874.4 L1551.0 874.4 L1553.0 874.4 L1555.0 874.4 L1557.0 874.5 L1559.0 874.5 L1561.0 874.5 L1563.0 874.5 L1565.0 874.6 L1567.0 874.6 L1569.0 874.6 L1571.0 874.6 L1573.0 874.7 L1575.0 874.7 L1577.0 874.7 L1579.0 874.8 L1581.0 874.8 L1583.0 874.8 L1585.0 874.8 L1587.0 874.9 L1589.0 874.9 L1591.0 874.9 L1593.0 874.9 L1595.0 875.0 L1597.0 875.0 L1599.0 875.0 L1601.0 875.1 L1603.0 875.1 L1605.0 875.1 L1607.0 875.1 L1609.0 875.2" stroke="#ff0000" stroke-width="10.1" stroke-dasharray="22.60 21.05" stroke-dashoffset="3.69"/>
<path d="M251.0 599.9 L253.0 601.1 L255.0 602.3 L257.0 603.4 L259.0 604.6 L261.0 605.7 L263.0 606.9 L265.0 608.0 L267.0 609.2 L269.0 610.3 L271.0 611.4 L273.0 612.6 L275.0 613.7 L277.0 614.8 L279.0 616.0 L281.0 617.1 L283.0 618.2 L285.0 619.3 L287.0 620.4 L289.0 621.5 L291.0 622.7 L293.0 623.8 L295.0 624.9 L297.0 626.0 L299.0 627.0 L301.0 628.1 L303.0 629.2 L305.0 630.3 L307.0 631.4 L309.0 632.5 L311.0 633.5 L313.0 634.6 L315.0 635.7 L317.0 636.8 L319.0 637.8 L321.0 638.9 L323.0 639.9 L325.0 641.0 L327.0 642.0 L329.0 643.1 L331.0 644.1 L333.0 645.2 L335.0 646.2 L337.0 647.2 L339.0 648.3 L341.0 649.3 L343.0 650.3 L345.0 651.3 L347.0 652.4 L349.0 653.4 L351.0 654.4 L353.0 655.4 L355.0 656.4 L357.0 657.4 L359.0 658.4 L361.0 659.4 L363.0 660.4 L365.0 661.4 L367.0 662.4 L369.0 663.4 L371.0 664.3 L373.0 665.3 L375.0 666.3 L377.0 667.3 L379.0 668.2 L381.0 669.2 L383.0 670.2 L385.0 671.1 L387.0 672.1 L389.0 673.0 L391.0 674.0 L393.0 674.9 L395.0 675.9 L397.0 676.8 L399.0 677.8 L401.0 678.7 L403.0 679.6 L405.0 680.6 L407.0 681.5 L409.0 682.4 L411.0 683.3 L413.0 684.3 L415.0 685.2 L417.0 686.1 L419.0 687.0 L421.0 687.9 L423.0 688.8 L425.0 689.7 L427.0 690.6 L429.0 691.5 L431.0 692.4 L433.0 693.3 L435.0 694.1 L437.0 695.0 L439.0 695.9 L441.0 696.8 L443.0 697.6 L445.0 698.5 L447.0 699.4 L449.0 700.2 L451.0 701.1 L453.0 702.0 L455.0 702.8 L457.0 703.7 L459.0 704.5 L461.0 705.4 L463.0 706.2 L465.0 707.0 L467.0 707.9 L469.0 708.7 L471.0 709.5 L473.0 710.4 L475.0 711.2 L477.0 712.0 L479.0 712.8 L481.0 713.6 L483.0 714.5 L485.0 715.3 L487.0 716.1 L489.0 716.9 L491.0 717.7 L493.0 718.5 L495.0 719.3 L497.0 720.1 L499.0 720.9 L501.0 721.6 L503.0 722.4 L505.0 723.2 L507.0 724.0 L509.0 724.8 L511.0 725.5 L513.0 726.3 L515.0 727.1 L517.0 727.8 L519.0 728.6 L521.0 729.3 L523.0 730.1 L525.0 730.9 L527.0 731.6 L529.0 732.3 L531.0 733.1 L533.0 733.8 L535.0 734.6 L537.0 735.3 L539.0 736.0 L541.0 736.8 L543.0 737.5 L545.0 738.2 L547.0 738.9 L549.0 739.7 L551.0 740.4 L553.0 741.1 L555.0 741.8 L557.0 742.5 L559.0 743.2 L561.0 743.9 L563.0 744.6 L565.0 745.3 L567.0 746.0 L569.0 746.7 L571.0 747.4 L573.0 748.1 L575.0 748.7 L577.0 749.4 L579.0 750.1 L581.0 750.8 L583.0 751.5 L585.0 752.1 L587.0 752.8 L589.0 753.5 L591.0 754.1 L593.0 754.8 L595.0 755.4 L597.0 756.1 L599.0 756.7 L601.0 757.4 L603.0 758.0 L605.0 758.7 L607.0 759.3 L609.0 759.9 L611.0 760.6 L613.0 761.2 L615.0 761.8 L617.0 762.5 L619.0 763.1 L621.0 763.7 L623.0 764.3 L625.0 765.0 L627.0 765.6 L629.0 766.2 L631.0 766.8 L633.0 767.4 L635.0 768.0 L637.0 768.6 L639.0 769.2 L641.0 769.8 L643.0 770.4 L645.0 771.0 L647.0 771.6 L649.0 772.2 L651.0 772.7 L653.0 773.3 L655.0 773.9 L657.0 774.5 L659.0 775.0 L661.0 775.6 L663.0 776.2 L665.0 776.8 L667.0 777.3 L669.0 777.9 L671.0 778.4 L673.0 779.0 L675.0 779.6 L677.0 780.1 L679.0 780.7 L681.0 781.2 L683.0 781.7 L685.0 782.3 L687.0 782.8 L689.0 783.4 L691.0 783.9 L693.0 784.4 L695.0 785.0 L697.0 785.5 L699.0 786.0 L701.0 786.5 L703.0 787.1 L705.0 787.6 L707.0 788.1 L709.0 788.6 L711.0 789.1 L713.0 789.6 L715.0 790.1 L717.0 790.6 L719.0 791.1 L721.0 791.6 L723.0 792.1 L725.0 792.6 L727.0 793.1 L729.0 793.6 L731.0 794.1 L733.0 794.6 L735.0 795.1 L737.0 795.5 L739.0 796.0 L741.0 796.5 L743.0 797.0 L745.0 797.4 L747.0 797.9 L749.0 798.4 L751.0 798.9 L753.0 799.3 L755.0 799.8 L757.0 800.2 L759.0 800.7 L761.0 801.1 L763.0 801.6 L765.0 802.0 L767.0 802.5 L769.0 802.9 L771.0 803.4 L773.0 803.8 L775.0 804.3 L777.0 804.7 L779.0 805.1 L781.0 805.6 L783.0 806.0 L785.0 806.4 L787.0 806.9 L789.0 807.3 L791.0 807.7 L793.0 808.1 L795.0 808.5 L797.0 809.0 L799.0 809.4 L801.0 809.8 L803.0 810.2 L805.0 810.6 L807.0 811.0 L809.0 811.4 L811.0 811.8 L813.0 812.2 L815.0 812.6 L817.0 813.0 L819.0 813.4 L821.0 813.8 L823.0 814.2 L825.0 814.6 L827.0 815.0 L829.0 815.3 L831.0 815.7 L833.0 816.1 L835.0 816.5 L837.0 816.9 L839.0 817.2 L841.0 817.6 L843.0 818.0 L845.0 818.3 L847.0 818.7 L849.0 819.1 L851.0 819.4 L853.0 819.8 L855.0 820.2 L857.0 820.5 L859.0 820.9 L861.0 821.2 L863.0 821.6 L865.0 821.9 L867.0 822.3 L869.0 822.6 L871.0 822.9 L873.0 823.3 L875.0 823.6 L877.0 824.0 L879.0 824.3 L881.0 824.6 L883.0 825.0 L885.0 825.3 L887.0 825.6 L889.0 826.0 L891.0 826.3 L893.0 826.6 L895.0 826.9 L897.0 827.2 L899.0 827.6 L901.0 827.9 L903.0 828.2 L905.0 828.5 L907.0 828.8 L909.0 829.1 L911.0 829.4 L913.0 829.7 L915.0 830.0 L917.0 830.3 L919.0 830.6 L921.0 830.9 L923.0 831.2 L925.0 831.5 L927.0 831.8 L929.0 832.1 L931.0 832.4 L933.0 832.7 L935.0 833.0 L937.0 833.3 L939.0 833.5 L941.0 833.8 L943.0 834.1 L945.0 834.4 L947.0 834.7 L949.0 834.9 L951.0 835.2 L953.0 835.5 L955.0 835.7 L957.0 836.0 L959.0 836.3 L961.0 836.5 L963.0 836.8 L965.0 837.1 L967.0 837.3 L969.0 837.6 L971.0 837.8 L973.0 838.1 L975.0 838.4 L977.0 838.6 L979.0 838.9 L981.0 839.1 L983.0 839.4 L985.0 839.6 L987.0 839.8 L989.0 840.1 L991.0 840.3 L993.0 840.6 L995.0 840.8 L997.0 841.0 L999.0 841.3 L1001.0 841.5 L1003.0 841.7 L1005.0 842.0 L1007.0 842.2 L1009.0 842.4 L1011.0 842.7 L1013.0 842.9 L1015.0 843.1 L1017.0 843.3 L1019.0 843.5 L1021.0 843.8 L1023.0 844.0 L1025.0 844.2 L1027.0 844.4 L1029.0 844.6 L1031.0 844.8 L1033.0 845.0 L1035.0 845.3 L1037.0 845.5 L1039.0 845.7 L1041.0 845.9 L1043.0 846.1 L1045.0 846.3 L1047.0 846.5 L1049.0 846.7 L1051.0 846.9 L1053.0 847.1 L1055.0 847.3 L1057.0 847.5 L1059.0 847.6 L1061.0 847.8 L1063.0 848.0 L1065.0 848.2 L1067.0 848.4 L1069.0 848.6 L1071.0 848.8 L1073.0 848.9 L1075.0 849.1 L1077.0 849.3 L1079.0 849.5 L1081.0 849.7 L1083.0 849.8 L1085.0 850.0 L1087.0 850.2 L1089.0 850.4 L1091.0 850.5 L1093.0 850.7 L1095.0 850.9 L1097.0 851.0 L1099.0 851.2 L1101.0 851.4 L1103.0 851.5 L1105.0 851.7 L1107.0 851.9 L1109.0 852.0 L1111.0 852.2 L1113.0 852.3 L1115.0 852.5 L1117.0 852.6 L1119.0 852.8 L1121.0 852.9 L1123.0 853.1 L1125.0 853.2 L1127.0 853.4 L1129.0 853.5 L1131.0 853.7 L1133.0 853.8 L1135.0 854.0 L1137.0 854.1 L1139.0 854.3 L1141.0 854.4 L1143.0 854.5 L1145.0 854.7 L1147.0 854.8 L1149.0 854.9 L1151.0 855.1 L1153.0 855.2 L1155.0 855.3 L1157.0 855.5 L1159.0 855.6 L1161.0 855.7 L1163.0 855.9 L1165.0 856.0 L1167.0 856.1 L1169.0 856.2 L1171.0 856.4 L1173.0 856.5 L1175.0 856.6 L1177.0 856.7 L1179.0 856.8 L1181.0 856.9 L1183.0 857.1 L1185.0 857.2 L1187.0 857.3 L1189.0 857.4 L1191.0 857.5 L1193.0 857.6 L1195.0 857.7 L1197.0 857.8 L1199.0 858.0 L1201.0 858.1 L1203.0 858.2 L1205.0 858.3 L1207.0 858.4 L1209.0 858.5 L1211.0 858.6 L1213.0 858.7 L1215.0 858.8 L1217.0 858.9 L1219.0 859.0 L1221.0 859.1 L1223.0 859.2 L1225.0 859.3 L1227.0 859.4 L1229.0 859.5 L1231.0 859.5 L1233.0 859.6 L1235.0 859.7 L1237.0 859.8 L1239.0 859.9 L1241.0 860.0 L1243.0 860.1 L1245.0 860.2 L1247.0 860.2 L1249.0 860.3 L1251.0 860.4 L1253.0 860.5 L1255.0 860.6 L1257.0 860.7 L1259.0 860.7 L1261.0 860.8 L1263.0 860.9 L1265.0 861.0 L1267.0 861.0 L1269.0 861.1 L1271.0 861.2 L1273.0 861.3 L1275.0 861.3 L1277.0 861.4 L1279.0 861.5 L1281.0 861.5 L1283.0 861.6 L1285.0 861.7 L1287.0 861.7 L1289.0 861.8 L1291.0 861.9 L1293.0 861.9 L1295.0 862.0 L1297.0 862.1 L1299.0 862.1 L1301.0 862.2 L1303.0 862.2 L1305.0 862.3 L1307.0 862.4 L1309.0 862.4 L1311.0 862.5 L1313.0 862.5 L1315.0 862.6 L1317.0 862.6 L1319.0 862.7 L1321.0 862.7 L1323.0 862.8 L1325.0 862.8 L1327.0 862.9 L1329.0 862.9 L1331.0 863.0 L1333.0 863.0 L1335.0 863.1 L1337.0 863.1 L1339.0 863.2 L1341.0 863.2 L1343.0 863.3 L1345.0 863.3 L1347.0 863.4 L1349.0 863.4 L1351.0 863.4 L1353.0 863.5 L1355.0 863.5 L1357.0 863.6 L1359.0 863.6 L1361.0 863.6 L1363.0 863.7 L1365.0 863.7 L1367.0 863.7 L1369.0 863.8 L1371.0 863.8 L1373.0 863.8 L1375.0 863.9 L1377.0 863.9 L1379.0 863.9 L1381.0 864.0 L1383.0 864.0 L1385.0 864.0 L1387.0 864.1 L1389.0 864.1 L1391.0 864.1 L1393.0 864.2 L1395.0 864.2 L1397.0 864.2 L1399.0 864.2 L1401.0 864.3 L1403.0 864.3 L1405.0 864.3 L1407.0 864.3 L1409.0 864.3 L1411.0 864.4 L1413.0 864.4 L1415.0 864.4 L1417.0 864.4 L1419.0 864.5 L1421.0 864.5 L1423.0 864.5 L1425.0 864.5 L1427.0 864.5 L1429.0 864.5 L1431.0 864.6 L1433.0 864.6 L1435.0 864.6 L1437.0 864.6 L1439.0 864.6 L1441.0 864.6 L1443.0 864.7 L1445.0 864.7 L1447.0 864.7 L1449.0 864.7 L1451.0 864.7 L1453.0 864.7 L1455.0 864.7 L1457.0 864.7 L1459.0 864.7 L1461.0 864.8 L1463.0 864.8 L1465.0 864.8 L1467.0 864.8 L1469.0 864.8 L1471.0 864.8 L1473.0 864.8 L1475.0 864.8 L1477.0 864.8 L1479.0 864.8 L1481.0 864.8 L1483.0 864.8 L1485.0 864.8 L1487.0 864.8 L1489.0 864.8 L1491.0 864.8 L1493.0 864.8 L1495.0 864.8 L1497.0 864.8 L1499.0 864.8 L1501.0 864.8 L1503.0 864.8 L1505.0 864.8 L1507.0 864.8 L1509.0 864.8 L1511.0 864.8 L1513.0 864.8 L1515.0 864.8 L1517.0 864.8 L1519.0 864.8 L1521.0 864.8 L1523.0 864.8 L1525.0 864.8 L1527.0 864.8 L1529.0 864.8 L1531.0 864.8 L1533.0 864.8 L1535.0 864.8 L1537.0 864.8 L1539.0 864.8 L1541.0 864.8 L1543.0 864.8 L1545.0 864.8 L1547.0 864.8 L1549.0 864.8 L1551.0 864.8 L1553.0 864.8 L1555.0 864.8 L1557.0 864.8 L1559.0 864.7 L1561.0 864.7 L1563.0 864.7 L1565.0 864.7 L1567.0 864.7 L1569.0 864.7 L1571.0 864.7 L1573.0 864.7 L1575.0 864.7 L1577.0 864.7 L1579.0 864.7 L1581.0 864.7 L1583.0 864.7 L1585.0 864.6 L1587.0 864.6 L1589.0 864.6 L1591.0 864.6 L1593.0 864.6 L1595.0 864.6 L1597.0 864.6 L1599.0 864.6 L1601.0 864.6 L1603.0 864.6 L1605.0 864.6 L1607.0 864.5 L1609.0 864.5" stroke="#000" stroke-width="10.4" stroke-linecap="round" stroke-dasharray="0.01 19.04" stroke-dashoffset="18.25"/>
<path d="M251.0 797.3 L253.0 798.2 L255.0 799.0 L257.0 799.8 L259.0 800.6 L261.0 801.4 L263.0 802.2 L265.0 803.1 L267.0 803.9 L269.0 804.7 L271.0 805.5 L273.0 806.3 L275.0 807.1 L277.0 807.9 L279.0 808.7 L281.0 809.4 L283.0 810.2 L285.0 811.0 L287.0 811.8 L289.0 812.6 L291.0 813.4 L293.0 814.1 L295.0 814.9 L297.0 815.7 L299.0 816.5 L301.0 817.2 L303.0 818.0 L305.0 818.8 L307.0 819.5 L309.0 820.3 L311.0 821.0 L313.0 821.8 L315.0 822.6 L317.0 823.3 L319.0 824.1 L321.0 824.8 L323.0 825.5 L325.0 826.3 L327.0 827.0 L329.0 827.8 L331.0 828.5 L333.0 829.2 L335.0 830.0 L337.0 830.7 L339.0 831.4 L341.0 832.1 L343.0 832.9 L345.0 833.6 L347.0 834.3 L349.0 835.0 L351.0 835.7 L353.0 836.4 L355.0 837.1 L357.0 837.8 L359.0 838.5 L361.0 839.2 L363.0 839.9 L365.0 840.6 L367.0 841.3 L369.0 842.0 L371.0 842.7 L373.0 843.4 L375.0 844.1 L377.0 844.8 L379.0 845.5 L381.0 846.1 L383.0 846.8 L385.0 847.5 L387.0 848.2 L389.0 848.8 L391.0 849.5 L393.0 850.2 L395.0 850.8 L397.0 851.5 L399.0 852.1 L401.0 852.8 L403.0 853.5 L405.0 854.1 L407.0 854.8 L409.0 855.4 L411.0 856.0 L413.0 856.7 L415.0 857.3 L417.0 858.0 L419.0 858.6 L421.0 859.2 L423.0 859.9 L425.0 860.5 L427.0 861.1 L429.0 861.8 L431.0 862.4 L433.0 863.0 L435.0 863.6 L437.0 864.2 L439.0 864.8 L441.0 865.5 L443.0 866.1 L445.0 866.7 L447.0 867.3 L449.0 867.9 L451.0 868.5 L453.0 869.1 L455.0 869.7 L457.0 870.3 L459.0 870.9 L461.0 871.5 L463.0 872.1 L465.0 872.6 L467.0 873.2 L469.0 873.8 L471.0 874.4 L473.0 875.0 L475.0 875.5 L477.0 876.1 L479.0 876.7 L481.0 877.3 L483.0 877.8 L485.0 878.4 L487.0 879.0 L489.0 879.5 L491.0 880.1 L493.0 880.6 L495.0 881.2 L497.0 881.7 L499.0 882.3 L501.0 882.8 L503.0 883.4 L505.0 883.9 L507.0 884.5 L509.0 885.0 L511.0 885.6 L513.0 886.1 L515.0 886.6 L517.0 887.2 L519.0 887.7 L521.0 888.2 L523.0 888.7 L525.0 889.3 L527.0 889.8 L529.0 890.3 L531.0 890.8 L533.0 891.3 L535.0 891.9 L537.0 892.4 L539.0 892.9 L541.0 893.4 L543.0 893.9 L545.0 894.4 L547.0 894.9 L549.0 895.4 L551.0 895.9 L553.0 896.4 L555.0 896.9 L557.0 897.4 L559.0 897.9 L561.0 898.4 L563.0 898.9 L565.0 899.3 L567.0 899.8 L569.0 900.3 L571.0 900.8 L573.0 901.3 L575.0 901.7 L577.0 902.2 L579.0 902.7 L581.0 903.1 L583.0 903.6 L585.0 904.1 L587.0 904.5 L589.0 905.0 L591.0 905.5 L593.0 905.9 L595.0 906.4 L597.0 906.8 L599.0 907.3 L601.0 907.7 L603.0 908.2 L605.0 908.6 L607.0 909.1 L609.0 909.5 L611.0 910.0 L613.0 910.4 L615.0 910.8 L617.0 911.3 L619.0 911.7 L621.0 912.1 L623.0 912.6 L625.0 913.0 L627.0 913.4 L629.0 913.8 L631.0 914.3 L633.0 914.7 L635.0 915.1 L637.0 915.5 L639.0 915.9 L641.0 916.4 L643.0 916.8 L645.0 917.2 L647.0 917.6 L649.0 918.0 L651.0 918.4 L653.0 918.8 L655.0 919.2 L657.0 919.6 L659.0 920.0 L661.0 920.4 L663.0 920.8 L665.0 921.2 L667.0 921.6 L669.0 922.0 L671.0 922.4 L673.0 922.7 L675.0 923.1 L677.0 923.5 L679.0 923.9 L681.0 924.3 L683.0 924.6 L685.0 925.0 L687.0 925.4 L689.0 925.8 L691.0 926.1 L693.0 926.5 L695.0 926.9 L697.0 927.2 L699.0 927.6 L701.0 928.0 L703.0 928.3 L705.0 928.7 L707.0 929.0 L709.0 929.4 L711.0 929.8 L713.0 930.1 L715.0 930.5 L717.0 930.8 L719.0 931.2 L721.0 931.5 L723.0 931.8 L725.0 932.2 L727.0 932.5 L729.0 932.9 L731.0 933.2 L733.0 933.5 L735.0 933.9 L737.0 934.2 L739.0 934.6 L741.0 934.9 L743.0 935.2 L745.0 935.5 L747.0 935.9 L749.0 936.2 L751.0 936.5 L753.0 936.8 L755.0 937.2 L757.0 937.5 L759.0 937.8 L761.0 938.1 L763.0 938.4 L765.0 938.7 L767.0 939.0 L769.0 939.3 L771.0 939.7 L773.0 940.0 L775.0 940.3 L777.0 940.6 L779.0 940.9 L781.0 941.2 L783.0 941.5 L785.0 941.8 L787.0 942.1 L789.0 942.4 L791.0 942.7 L793.0 942.9 L795.0 943.2 L797.0 943.5 L799.0 943.8 L801.0 944.1 L803.0 944.4 L805.0 944.7 L807.0 944.9 L809.0 945.2 L811.0 945.5 L813.0 945.8 L815.0 946.1 L817.0 946.3 L819.0 946.6 L821.0 946.9 L823.0 947.1 L825.0 947.4 L827.0 947.7 L829.0 948.0 L831.0 948.2 L833.0 948.5 L835.0 948.7 L837.0 949.0 L839.0 949.3 L841.0 949.5 L843.0 949.8 L845.0 950.0 L847.0 950.3 L849.0 950.5 L851.0 950.8 L853.0 951.0 L855.0 951.3 L857.0 951.5 L859.0 951.8 L861.0 952.0 L863.0 952.3 L865.0 952.5 L867.0 952.8 L869.0 953.0 L871.0 953.2 L873.0 953.5 L875.0 953.7 L877.0 953.9 L879.0 954.2 L881.0 954.4 L883.0 954.6 L885.0 954.9 L887.0 955.1 L889.0 955.3 L891.0 955.6 L893.0 955.8 L895.0 956.0 L897.0 956.2 L899.0 956.4 L901.0 956.7 L903.0 956.9 L905.0 957.1 L907.0 957.3 L909.0 957.5 L911.0 957.7 L913.0 958.0 L915.0 958.2 L917.0 958.4 L919.0 958.6 L921.0 958.8 L923.0 959.0 L925.0 959.2 L927.0 959.4 L929.0 959.6 L931.0 959.8 L933.0 960.0 L935.0 960.2 L937.0 960.4 L939.0 960.6 L941.0 960.8 L943.0 961.0 L945.0 961.2 L947.0 961.4 L949.0 961.6 L951.0 961.8 L953.0 962.0 L955.0 962.2 L957.0 962.3 L959.0 962.5 L961.0 962.7 L963.0 962.9 L965.0 963.1 L967.0 963.3 L969.0 963.4 L971.0 963.6 L973.0 963.8 L975.0 964.0 L977.0 964.1 L979.0 964.3 L981.0 964.5 L983.0 964.7 L985.0 964.8 L987.0 965.0 L989.0 965.2 L991.0 965.3 L993.0 965.5 L995.0 965.7 L997.0 965.8 L999.0 966.0 L1001.0 966.2 L1003.0 966.3 L1005.0 966.5 L1007.0 966.7 L1009.0 966.8 L1011.0 967.0 L1013.0 967.1 L1015.0 967.3 L1017.0 967.4 L1019.0 967.6 L1021.0 967.8 L1023.0 967.9 L1025.0 968.1 L1027.0 968.2 L1029.0 968.4 L1031.0 968.5 L1033.0 968.6 L1035.0 968.8 L1037.0 968.9 L1039.0 969.1 L1041.0 969.2 L1043.0 969.4 L1045.0 969.5 L1047.0 969.6 L1049.0 969.8 L1051.0 969.9 L1053.0 970.1 L1055.0 970.2 L1057.0 970.3 L1059.0 970.5 L1061.0 970.6 L1063.0 970.7 L1065.0 970.9 L1067.0 971.0 L1069.0 971.1 L1071.0 971.3 L1073.0 971.4 L1075.0 971.5 L1077.0 971.6 L1079.0 971.8 L1081.0 971.9 L1083.0 972.0 L1085.0 972.1 L1087.0 972.2 L1089.0 972.4 L1091.0 972.5 L1093.0 972.6 L1095.0 972.7 L1097.0 972.8 L1099.0 973.0 L1101.0 973.1 L1103.0 973.2 L1105.0 973.3 L1107.0 973.4 L1109.0 973.5 L1111.0 973.6 L1113.0 973.7 L1115.0 973.8 L1117.0 974.0 L1119.0 974.1 L1121.0 974.2 L1123.0 974.3 L1125.0 974.4 L1127.0 974.5 L1129.0 974.6 L1131.0 974.7 L1133.0 974.8 L1135.0 974.9 L1137.0 975.0 L1139.0 975.1 L1141.0 975.2 L1143.0 975.3 L1145.0 975.4 L1147.0 975.5 L1149.0 975.6 L1151.0 975.7 L1153.0 975.8 L1155.0 975.8 L1157.0 975.9 L1159.0 976.0 L1161.0 976.1 L1163.0 976.2 L1165.0 976.3 L1167.0 976.4 L1169.0 976.5 L1171.0 976.5 L1173.0 976.6 L1175.0 976.7 L1177.0 976.8 L1179.0 976.9 L1181.0 977.0 L1183.0 977.0 L1185.0 977.1 L1187.0 977.2 L1189.0 977.3 L1191.0 977.4 L1193.0 977.4 L1195.0 977.5 L1197.0 977.6 L1199.0 977.7 L1201.0 977.7 L1203.0 977.8 L1205.0 977.9 L1207.0 978.0 L1209.0 978.0 L1211.0 978.1 L1213.0 978.2 L1215.0 978.2 L1217.0 978.3 L1219.0 978.4 L1221.0 978.4 L1223.0 978.5 L1225.0 978.6 L1227.0 978.6 L1229.0 978.7 L1231.0 978.8 L1233.0 978.8 L1235.0 978.9 L1237.0 979.0 L1239.0 979.0 L1241.0 979.1 L1243.0 979.1 L1245.0 979.2 L1247.0 979.3 L1249.0 979.3 L1251.0 979.4 L1253.0 979.4 L1255.0 979.5 L1257.0 979.5 L1259.0 979.6 L1261.0 979.6 L1263.0 979.7 L1265.0 979.7 L1267.0 979.8 L1269.0 979.8 L1271.0 979.9 L1273.0 979.9 L1275.0 980.0 L1277.0 980.0 L1279.0 980.1 L1281.0 980.1 L1283.0 980.2 L1285.0 980.2 L1287.0 980.3 L1289.0 980.3 L1291.0 980.4 L1293.0 980.4 L1295.0 980.5 L1297.0 980.5 L1299.0 980.5 L1301.0 980.6 L1303.0 980.6 L1305.0 980.7 L1307.0 980.7 L1309.0 980.7 L1311.0 980.8 L1313.0 980.8 L1315.0 980.9 L1317.0 980.9 L1319.0 980.9 L1321.0 981.0 L1323.0 981.0 L1325.0 981.0 L1327.0 981.1 L1329.0 981.1 L1331.0 981.1 L1333.0 981.2 L1335.0 981.2 L1337.0 981.2 L1339.0 981.3 L1341.0 981.3 L1343.0 981.3 L1345.0 981.4 L1347.0 981.4 L1349.0 981.4 L1351.0 981.5 L1353.0 981.5 L1355.0 981.5 L1357.0 981.5 L1359.0 981.6 L1361.0 981.6 L1363.0 981.6 L1365.0 981.7 L1367.0 981.7 L1369.0 981.7 L1371.0 981.7 L1373.0 981.8 L1375.0 981.8 L1377.0 981.8 L1379.0 981.8 L1381.0 981.8 L1383.0 981.9 L1385.0 981.9 L1387.0 981.9 L1389.0 981.9 L1391.0 982.0 L1393.0 982.0 L1395.0 982.0 L1397.0 982.0 L1399.0 982.0 L1401.0 982.1 L1403.0 982.1 L1405.0 982.1 L1407.0 982.1 L1409.0 982.1 L1411.0 982.1 L1413.0 982.2 L1415.0 982.2 L1417.0 982.2 L1419.0 982.2 L1421.0 982.2 L1423.0 982.2 L1425.0 982.3 L1427.0 982.3 L1429.0 982.3 L1431.0 982.3 L1433.0 982.3 L1435.0 982.3 L1437.0 982.4 L1439.0 982.4 L1441.0 982.4 L1443.0 982.4 L1445.0 982.4 L1447.0 982.4 L1449.0 982.4 L1451.0 982.4 L1453.0 982.5 L1455.0 982.5 L1457.0 982.5 L1459.0 982.5 L1461.0 982.5 L1463.0 982.5 L1465.0 982.5 L1467.0 982.5 L1469.0 982.6 L1471.0 982.6 L1473.0 982.6 L1475.0 982.6 L1477.0 982.6 L1479.0 982.6 L1481.0 982.6 L1483.0 982.6 L1485.0 982.6 L1487.0 982.7 L1489.0 982.7 L1491.0 982.7 L1493.0 982.7 L1495.0 982.7 L1497.0 982.7 L1499.0 982.7 L1501.0 982.7 L1503.0 982.7 L1505.0 982.8 L1507.0 982.8 L1509.0 982.8 L1511.0 982.8 L1513.0 982.8 L1515.0 982.8 L1517.0 982.8 L1519.0 982.8 L1521.0 982.9 L1523.0 982.9 L1525.0 982.9 L1527.0 982.9 L1529.0 982.9 L1531.0 982.9 L1533.0 982.9 L1535.0 982.9 L1537.0 982.9 L1539.0 983.0 L1541.0 983.0 L1543.0 983.0 L1545.0 983.0 L1547.0 983.0 L1549.0 983.0 L1551.0 983.0 L1553.0 983.1 L1555.0 983.1 L1557.0 983.1 L1559.0 983.1 L1561.0 983.1 L1563.0 983.1 L1565.0 983.1 L1567.0 983.2 L1569.0 983.2 L1571.0 983.2 L1573.0 983.2 L1575.0 983.2 L1577.0 983.2 L1579.0 983.3 L1581.0 983.3 L1583.0 983.3 L1585.0 983.3 L1587.0 983.3 L1589.0 983.4 L1591.0 983.4 L1593.0 983.4 L1595.0 983.4 L1597.0 983.4 L1599.0 983.5 L1601.0 983.5 L1603.0 983.5 L1605.0 983.5 L1607.0 983.6 L1609.0 983.6" stroke="#ff0000" stroke-width="10.4" stroke-linecap="round" stroke-dasharray="0.01 19.02" stroke-dashoffset="18.79"/>
</g>
<rect x="250.3" y="53.8" width="1359.8" height="999.2" fill="none" stroke="#000" stroke-width="7.5"/>
<path d="M385.7 1053.0 V1039.0 M385.7 53.8 V67.8 M521.7 1053.0 V1029.0 M521.7 53.8 V77.8 M657.6 1053.0 V1039.0 M657.6 53.8 V67.8 M793.6 1053.0 V1029.0 M793.6 53.8 V77.8 M929.5 1053.0 V1039.0 M929.5 53.8 V67.8 M1065.5 1053.0 V1029.0 M1065.5 53.8 V77.8 M1201.4 1053.0 V1039.0 M1201.4 53.8 V67.8 M1337.4 1053.0 V1029.0 M1337.4 53.8 V77.8 M1473.3 1053.0 V1039.0 M1473.3 53.8 V67.8 M250.3 985.7 H264.3 M1610.1 985.7 H1596.1 M250.3 852.5 H274.3 M1610.1 852.5 H1586.1 M250.3 719.4 H264.3 M1610.1 719.4 H1596.1 M250.3 586.2 H274.3 M1610.1 586.2 H1586.1 M250.3 453.0 H264.3 M1610.1 453.0 H1596.1 M250.3 319.9 H274.3 M1610.1 319.9 H1586.1 M250.3 186.7 H264.3 M1610.1 186.7 H1596.1" stroke="#000" stroke-width="7" fill="none"/>
<path d="M957.75 105.6 H1066.2" stroke="#0000ff" stroke-width="10.5" stroke-linecap="round" stroke-dasharray="16 27.6" fill="none"/>
<path d="M954.5 105.6 H1066.2" stroke="#0000ff" stroke-width="10.5" stroke-dasharray="22.5 21.1" fill="none"/>
<path d="M958.0 172.9 H1077.5" stroke="#0000ff" stroke-width="10" stroke-linecap="round" stroke-dasharray="0.01 19.04" fill="none"/>
<path d="M957.75 239.5 H1066.2" stroke="#000" stroke-width="10.5" stroke-linecap="round" stroke-dasharray="16 27.6" fill="none"/>
<path d="M954.5 239.5 H1066.2" stroke="#000" stroke-width="10.5" stroke-dasharray="22.5 21.1" fill="none"/>
<path d="M958.0 307.3 H1077.5" stroke="#000" stroke-width="10" stroke-linecap="round" stroke-dasharray="0.01 19.04" fill="none"/>
<path d="M957.75 374.3 H1066.2" stroke="#ff0000" stroke-width="10.5" stroke-linecap="round" stroke-dasharray="16 27.6" fill="none"/>
<path d="M954.5 374.3 H1066.2" stroke="#ff0000" stroke-width="10.5" stroke-dasharray="22.5 21.1" fill="none"/>
<path d="M958.0 441.7 H1077.5" stroke="#ff0000" stroke-width="10" stroke-linecap="round" stroke-dasharray="0.01 19.04" fill="none"/>
<text class="lg" y="123.1"><tspan class="it" x="1092">L</tspan><tspan x="1123.5">=0.8 μm,</tspan><tspan class="it" x="1339">E</tspan><tspan class="sub" x="1375.5" dy="2">f</tspan><tspan x="1386.5" dy="-2" font-size="54">=0.3 eV</tspan></text>
<text class="lg" y="190.4"><tspan class="it" x="1092">L</tspan><tspan x="1123.5">=1.7 μm,</tspan><tspan class="it" x="1339">E</tspan><tspan class="sub" x="1375.5" dy="2">f</tspan><tspan x="1386.5" dy="-2" font-size="54">=0.3 eV</tspan></text>
<text class="lg" y="257.0"><tspan class="it" x="1092">L</tspan><tspan x="1123.5">=0.8 μm,</tspan><tspan class="it" x="1339">E</tspan><tspan class="sub" x="1375.5" dy="2">f</tspan><tspan x="1386.5" dy="-2" font-size="54">=0.4 eV</tspan></text>
<text class="lg" y="324.8"><tspan class="it" x="1092">L</tspan><tspan x="1123.5">=1.7 μm,</tspan><tspan class="it" x="1339">E</tspan><tspan class="sub" x="1375.5" dy="2">f</tspan><tspan x="1386.5" dy="-2" font-size="54">=0.4 eV</tspan></text>
<text class="lg" y="391.8"><tspan class="it" x="1092">L</tspan><tspan x="1123.5">=0.8 μm,</tspan><tspan class="it" x="1339">E</tspan><tspan class="sub" x="1375.5" dy="2">f</tspan><tspan x="1386.5" dy="-2" font-size="54">=0.5 eV</tspan></text>
<text class="lg" y="459.2"><tspan class="it" x="1092">L</tspan><tspan x="1123.5">=1.7 μm,</tspan><tspan class="it" x="1339">E</tspan><tspan class="sub" x="1375.5" dy="2">f</tspan><tspan x="1386.5" dy="-2" font-size="54">=0.5 eV</tspan></text>
<text class="tick" x="250.1" y="1144" text-anchor="middle">30</text>
<text class="tick" x="522.0" y="1144" text-anchor="middle">40</text>
<text class="tick" x="793.9" y="1144" text-anchor="middle">50</text>
<text class="tick" x="1065.8" y="1144" text-anchor="middle">60</text>
<text class="tick" x="1337.7" y="1144" text-anchor="middle">70</text>
<text class="tick" x="1609.5" y="1144" text-anchor="middle">80</text>
<text class="tick" x="227.7" y="878.2" text-anchor="end">8</text>
<text class="tick" x="227.7" y="611.9" text-anchor="end">10</text>
<text class="tick" x="227.7" y="345.6" text-anchor="end">12</text>
<text class="tick" x="227.7" y="79.2" text-anchor="end">14</text>
<text x="603.5" y="1247" font-size="88" textLength="651" lengthAdjust="spacing">Wavelength (μm)</text>
<text transform="translate(81.5 783) rotate(-90)" font-size="88.5"><tspan x="0">Re</tspan><tspan class="cjk" font-size="76" x="103" dy="-3">（</tspan><tspan x="190" dy="3">n</tspan><tspan font-size="57" dy="32" x="237.5">eff</tspan><tspan class="cjk" font-size="76" dy="-35" x="306">）</tspan></text>
</g>
</svg></body></html>
